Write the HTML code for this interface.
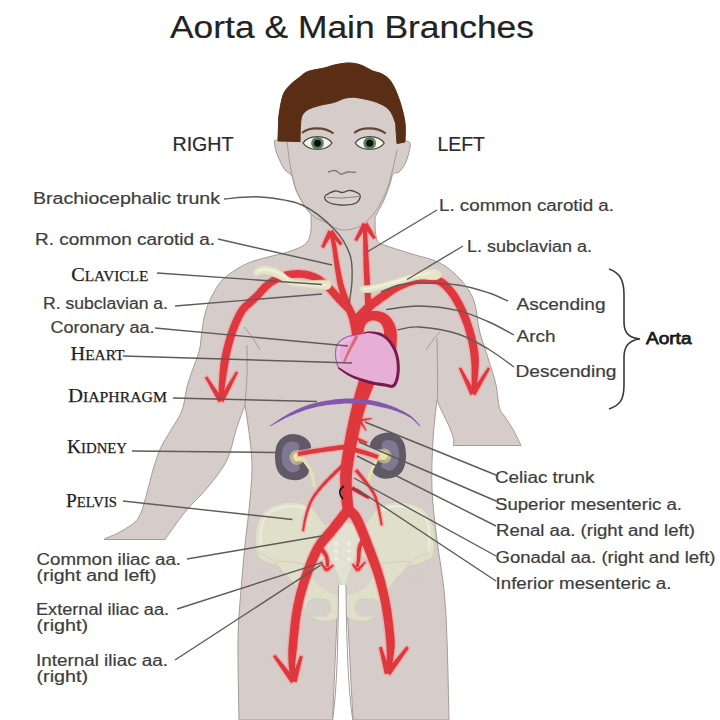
<!DOCTYPE html>
<html><head><meta charset="utf-8">
<style>
html,body{margin:0;padding:0;background:#fff;}
body{width:720px;height:720px;overflow:hidden;position:relative;}
svg{position:absolute;left:0;top:0;}
</style></head><body>
<svg width="720" height="720" viewBox="0 0 720 720">
<path d="M311.0,214.0 C310.9,217.1 311.6,227.7 310.6,232.8 C309.6,237.9 308.7,241.3 304.8,244.5 C300.9,247.7 293.5,250.1 287.3,252.2 C281.1,254.3 274.3,255.3 267.8,257.1 C261.3,258.9 254.2,260.6 248.4,263.0 C242.6,265.4 237.4,268.6 232.8,271.7 C228.2,274.8 224.6,277.2 221.0,281.4 C217.4,285.6 214.0,291.9 211.4,297.0 C208.8,302.1 207.1,306.5 205.5,312.0 C203.9,317.5 203.0,323.7 202.0,330.0 C201.0,336.3 201.1,343.3 199.5,350.0 C197.9,356.7 194.6,363.8 192.5,370.0 C190.4,376.2 188.8,380.2 187.0,387.0 C185.2,393.8 184.7,403.3 182.0,410.5 C179.3,417.7 174.7,423.5 171.0,430.0 C167.3,436.5 163.2,442.0 160.0,449.4 C156.8,456.8 154.0,466.5 151.7,474.4 C149.4,482.3 148.3,489.3 146.0,496.7 C143.7,504.1 142.0,513.1 137.8,518.9 C133.6,524.7 126.3,528.2 121.0,531.4 C115.7,534.6 108.6,536.9 105.8,538.3 C103.0,539.6 104.3,539.3 104.0,539.5  L165,539.5 L165.0,539.5 C168.3,534.9 177.8,520.8 185.0,512.0 C192.2,503.2 201.0,495.7 208.0,487.0 C215.0,478.3 222.3,469.5 227.0,460.0 C231.7,450.5 233.0,439.2 236.0,430.0 C239.0,420.8 243.5,409.2 245.0,405.0 L245.0,405.0 C245.8,410.8 248.8,429.2 250.0,440.0 C251.2,450.8 252.2,458.3 252.0,470.0 C251.8,481.7 250.2,497.5 249.0,510.0 C247.8,522.5 246.3,531.7 245.0,545.0 C243.7,558.3 242.2,574.2 241.0,590.0 C239.8,605.8 238.3,618.3 238.0,640.0 C237.7,661.7 238.8,706.7 239.0,720.0  L332.5,720 L338.5,585 L346,585 L353,720 L449,720 L449.0,720.0 C448.7,706.7 447.8,661.7 447.0,640.0 C446.2,618.3 445.7,606.7 444.0,590.0 C442.3,573.3 439.0,556.7 437.0,540.0 C435.0,523.3 432.7,506.7 432.0,490.0 C431.3,473.3 432.2,455.0 433.0,440.0 C433.8,425.0 436.3,406.7 437.0,400.0 L437.0,400.0 C437.8,401.8 439.7,406.7 441.7,411.0 C443.7,415.3 446.9,421.1 448.9,425.7 C450.8,430.2 452.6,435.0 453.4,438.3 C454.1,441.6 453.4,444.3 453.4,445.5  L521,445.5 L521.0,445.5 C519.8,443.1 516.6,435.8 513.9,431.0 C511.2,426.2 507.2,420.5 504.8,416.6 C502.4,412.7 500.9,413.0 499.4,407.6 C497.9,402.2 497.7,392.3 495.8,384.0 C493.9,375.7 490.7,366.8 488.0,358.0 C485.3,349.2 481.8,340.5 479.5,331.0 C477.2,321.5 477.1,309.5 474.0,301.0 C470.9,292.5 466.7,286.3 461.0,280.0 C455.3,273.7 448.2,267.3 440.0,263.0 C431.8,258.7 420.3,256.7 412.0,254.0 C403.7,251.3 395.8,249.3 390.0,247.0 C384.2,244.7 379.5,245.0 377.0,240.0 C374.5,235.0 375.3,220.8 375.0,217.0 L375.0,217.0 C376.5,214.2 381.5,205.5 384.0,200.0 C386.5,194.5 388.5,188.3 390.0,184.0 C391.5,179.7 391.5,176.0 393.0,174.0 C394.5,172.0 397.0,173.7 399.0,172.0 C401.0,170.3 403.3,167.3 405.0,164.0 C406.7,160.7 408.2,155.5 409.0,152.0 C409.8,148.5 410.7,145.2 410.0,143.0 C409.3,140.8 405.8,142.2 405.0,139.0 C404.2,135.8 405.7,129.1 405.0,123.5 C404.3,117.9 402.7,111.0 401.0,105.3 C399.3,99.5 397.0,93.4 395.0,89.0 C393.0,84.6 391.2,81.6 388.8,79.0 C386.4,76.4 383.5,74.8 380.8,73.5 C378.1,72.2 376.1,72.4 372.7,71.0 C369.3,69.6 364.6,66.3 360.6,65.0 C356.6,63.7 352.9,63.0 348.5,63.0 C344.1,63.0 338.5,64.2 334.5,65.0 C330.5,65.8 328.8,66.9 324.4,68.0 C320.0,69.1 312.1,70.0 308.0,71.5 C303.9,73.0 303.0,74.7 300.0,77.0 C297.0,79.3 292.8,82.2 290.0,85.2 C287.2,88.2 284.8,90.3 283.0,95.3 C281.2,100.3 279.8,110.5 279.0,115.4 C278.2,120.4 278.7,121.1 278.5,125.0 C278.3,128.9 278.7,136.3 278.0,139.0 C277.3,141.7 274.8,139.0 274.5,141.0 C274.2,143.0 275.1,147.7 276.0,151.0 C276.9,154.3 278.5,157.8 280.0,161.0 C281.5,164.2 283.0,167.5 285.0,170.0 C287.0,172.5 290.2,172.7 292.0,176.0 C293.8,179.3 294.0,185.2 296.0,190.0 C298.0,194.8 301.5,201.0 304.0,205.0 C306.5,209.0 309.8,212.5 311.0,214.0 Z" fill="#d6cdca" stroke="#a39b97" stroke-width="1"/>
<g fill="none" stroke="#a39b97" stroke-width="1">
<path d="M244.0,327.0 C245.3,328.7 249.3,333.2 252.0,337.0 C254.7,340.8 258.7,347.8 260.0,350.0"/>
<path d="M247.0,345.0 C247.0,350.0 247.3,365.0 247.0,375.0 C246.7,385.0 245.3,400.0 245.0,405.0"/>
<path d="M426.0,350.0 C427.2,348.3 430.7,343.0 433.0,340.0 C435.3,337.0 438.8,333.3 440.0,332.0"/>
<path d="M437.0,338.0 C437.1,343.3 437.4,359.7 437.5,370.0 C437.6,380.3 437.5,395.0 437.5,400.0"/>
<path d="M287.0,142.0 C287.7,146.7 289.3,161.7 291.0,170.0 C292.7,178.3 293.7,184.7 297.0,192.0 C300.3,199.3 306.0,208.8 311.0,214.0 C316.0,219.2 321.8,220.3 327.0,223.0 C332.2,225.7 336.5,229.5 342.0,230.0 C347.5,230.5 354.5,229.0 360.0,226.0 C365.5,223.0 370.7,217.7 375.0,212.0 C379.3,206.3 383.2,198.7 386.0,192.0 C388.8,185.3 390.2,179.0 392.0,172.0 C393.8,165.0 396.2,153.7 397.0,150.0"/>
</g>
<path d="M256.7,554.0 C255.4,548.7 254.7,536.1 256.0,529.0 C257.3,521.9 260.5,515.6 264.5,511.4 C268.5,507.2 274.5,505.1 280.0,503.6 C285.5,502.1 292.3,502.0 297.5,502.6 C302.7,503.2 307.4,505.1 311.0,507.5 C314.6,509.9 316.3,513.6 319.0,517.0 C321.7,520.4 324.2,524.8 327.0,528.0 C329.8,531.2 334.8,532.3 336.0,536.0 C337.2,539.7 336.3,546.0 334.0,550.0 C331.7,554.0 327.3,557.3 322.0,560.0 C316.7,562.7 309.0,565.0 302.0,566.0 C295.0,567.0 286.3,566.8 280.0,566.0 C273.7,565.2 267.9,563.0 264.0,561.0 C260.1,559.0 258.0,559.3 256.7,554.0 Z" fill="#dfdfca" stroke="#cfcfbb" stroke-width="1"/>
<path d="M433.3,554.0 C434.6,548.7 435.3,536.1 434.0,529.0 C432.7,521.9 429.5,515.6 425.5,511.4 C421.5,507.2 415.5,505.1 410.0,503.6 C404.5,502.1 397.7,502.0 392.5,502.6 C387.3,503.2 382.6,505.1 379.0,507.5 C375.4,509.9 373.7,513.6 371.0,517.0 C368.3,520.4 365.8,524.8 363.0,528.0 C360.2,531.2 355.2,532.3 354.0,536.0 C352.8,539.7 353.7,546.0 356.0,550.0 C358.3,554.0 362.7,557.3 368.0,560.0 C373.3,562.7 381.0,565.0 388.0,566.0 C395.0,567.0 403.7,566.8 410.0,566.0 C416.3,565.2 422.1,563.0 426.0,561.0 C429.9,559.0 432.0,559.3 433.3,554.0 Z" fill="#dfdfca" stroke="#cfcfbb" stroke-width="1"/>
<path d="M276.0,562.0 C272.3,564.2 285.8,573.5 290.0,579.0 C294.2,584.5 298.3,589.5 301.0,595.0 C303.7,600.5 302.8,607.7 306.0,612.0 C309.2,616.3 315.0,619.8 320.0,621.0 C325.0,622.2 332.2,621.2 336.0,619.0 C339.8,616.8 342.3,612.5 343.0,608.0 C343.7,603.5 342.5,597.0 340.0,592.0 C337.5,587.0 332.7,582.3 328.0,578.0 C323.3,573.7 320.7,568.7 312.0,566.0 C303.3,563.3 279.7,559.8 276.0,562.0 Z" fill="#dfdfca" stroke="#cfcfbb" stroke-width="1"/>
<path d="M410.0,562.0 C413.7,564.2 400.2,573.5 396.0,579.0 C391.8,584.5 387.7,589.5 385.0,595.0 C382.3,600.5 383.2,607.7 380.0,612.0 C376.8,616.3 371.0,619.8 366.0,621.0 C361.0,622.2 353.8,621.2 350.0,619.0 C346.2,616.8 343.7,612.5 343.0,608.0 C342.3,603.5 343.5,597.0 346.0,592.0 C348.5,587.0 353.3,582.3 358.0,578.0 C362.7,573.7 365.3,568.7 374.0,566.0 C382.7,563.3 406.3,559.8 410.0,562.0 Z" fill="#dfdfca" stroke="#cfcfbb" stroke-width="1"/>
<path d="M261.0,550.0 C261.0,546.5 259.8,535.0 261.0,529.0 C262.2,523.0 264.5,517.6 268.0,514.0 C271.5,510.4 277.0,508.8 282.0,507.5 C287.0,506.2 293.3,505.9 298.0,506.5 C302.7,507.1 308.0,510.2 310.0,511.0" fill="none" stroke="#ebebdb" stroke-width="2.5"/>
<path d="M429.0,550.0 C429.0,546.5 430.2,535.0 429.0,529.0 C427.8,523.0 425.5,517.6 422.0,514.0 C418.5,510.4 413.0,508.8 408.0,507.5 C403.0,506.2 396.7,505.9 392.0,506.5 C387.3,507.1 382.0,510.2 380.0,511.0" fill="none" stroke="#ebebdb" stroke-width="2.5"/>
<path d="M257.0,553.0 C258.5,553.5 262.8,554.3 266.0,556.0 C269.2,557.7 273.5,560.5 276.0,563.0 C278.5,565.5 281.2,568.5 281.0,571.0 C280.8,573.5 278.2,577.5 275.0,578.0 C271.8,578.5 264.2,574.7 262.0,574.0" fill="none" stroke="#cfcfbb" stroke-width="1"/>
<path d="M429.0,553.0 C427.5,553.5 423.2,554.3 420.0,556.0 C416.8,557.7 412.5,560.5 410.0,563.0 C407.5,565.5 404.8,568.5 405.0,571.0 C405.2,573.5 407.8,577.5 411.0,578.0 C414.2,578.5 421.8,574.7 424.0,574.0" fill="none" stroke="#cfcfbb" stroke-width="1"/>
<path d="M312.0,566.0 C313.3,561.8 320.8,559.7 326.0,560.0 C331.2,560.3 337.3,568.0 343.0,568.0 C348.7,568.0 354.8,560.3 360.0,560.0 C365.2,559.7 372.7,561.8 374.0,566.0 C375.3,570.2 373.2,580.0 368.0,585.0 C362.8,590.0 351.3,596.0 343.0,596.0 C334.7,596.0 323.2,590.0 318.0,585.0 C312.8,580.0 310.7,570.2 312.0,566.0 Z" fill="#d9d3cc"/>
<path d="M324.0,527.0 C326.5,522.2 336.7,523.0 343.0,523.0 C349.3,523.0 359.5,522.2 362.0,527.0 C364.5,531.8 360.0,544.5 358.0,552.0 C356.0,559.5 352.5,566.3 350.0,572.0 C347.5,577.7 345.3,586.0 343.0,586.0 C340.7,586.0 338.5,577.7 336.0,572.0 C333.5,566.3 330.0,559.5 328.0,552.0 C326.0,544.5 321.5,531.8 324.0,527.0 Z" fill="#e2e2d2" stroke="#cfcfbb" stroke-width="0.8"/>
<circle cx="336" cy="543.5" r="2.1" fill="#efeee4"/>
<circle cx="349" cy="543.5" r="2.1" fill="#efeee4"/>
<circle cx="336" cy="551" r="2.1" fill="#efeee4"/>
<circle cx="349" cy="551" r="2.1" fill="#efeee4"/>
<circle cx="336" cy="559" r="2.1" fill="#efeee4"/>
<circle cx="349" cy="559" r="2.1" fill="#efeee4"/>
<rect x="307" y="599" width="23.5" height="17" rx="7" fill="#d6d1ca" stroke="#cfcfbb" stroke-width="1"/>
<rect x="355.5" y="599" width="23.5" height="17" rx="7" fill="#d6d1ca" stroke="#cfcfbb" stroke-width="1"/>
<path d="M338.5,585 L346,585 C346.5,640 348,690 353,721 L332.5,721 C337,690 338.2,640 338.5,585 Z" fill="#fff"/>
<path d="M338.5,585 C338.2,640 337,690 332.5,721 M346,585 C346.5,640 348,690 353,721" stroke="#a39b97" stroke-width="1" fill="none"/>
<path d="M278.0,141.0 C278.1,138.3 278.3,129.3 278.5,125.0 C278.7,120.7 278.2,120.4 279.0,115.4 C279.8,110.5 281.2,100.3 283.0,95.3 C284.8,90.3 287.2,88.2 290.0,85.2 C292.8,82.2 297.0,79.3 300.0,77.0 C303.0,74.7 303.9,73.0 308.0,71.5 C312.1,70.0 320.0,69.1 324.4,68.0 C328.8,66.9 330.5,65.8 334.5,65.0 C338.5,64.2 344.1,63.0 348.5,63.0 C352.9,63.0 356.6,63.7 360.6,65.0 C364.6,66.3 369.3,69.6 372.7,71.0 C376.1,72.4 378.1,72.2 380.8,73.5 C383.5,74.8 386.4,76.4 388.8,79.0 C391.2,81.6 393.0,84.6 395.0,89.0 C397.0,93.4 399.3,99.5 401.0,105.3 C402.7,111.0 404.3,117.4 405.0,123.5 C405.7,129.6 405.0,138.9 405.0,142.0  L397,143.6 L397.0,143.6 C396.8,141.3 396.3,133.7 396.0,130.0 C395.7,126.3 396.2,124.9 395.0,121.5 C393.8,118.1 391.9,112.6 388.8,109.4 C385.8,106.2 381.4,104.2 376.7,102.3 C372.0,100.4 364.6,99.1 360.6,98.3 C356.6,97.5 355.3,97.3 352.6,97.3 C349.9,97.3 347.5,97.5 344.5,98.3 C341.5,99.1 338.5,101.1 334.5,102.3 C330.5,103.5 324.8,104.1 320.4,105.3 C316.0,106.5 311.3,107.7 308.3,109.4 C305.3,111.1 303.5,112.8 302.2,115.4 C300.9,118.0 300.8,121.7 300.5,125.0 C300.2,128.3 300.2,132.7 300.2,135.5 C300.1,138.3 300.2,140.6 300.2,141.6 Z" fill="#5a2e14" stroke="#5a2e14" stroke-width="1"/>
<path d="M303.0,143 C308.5,134.5 326.5,134.5 332.0,143 C326.5,151.5 308.5,151.5 303.0,143 Z" fill="#f3f4ee" stroke="#3e4a3c" stroke-width="1.3"/>
<circle cx="317.5" cy="143.3" r="6.3" fill="#5f7f5c"/>
<circle cx="317.5" cy="143.3" r="3.5" fill="#0c100c"/>
<path d="M302.0,133 C308.5,127 324.5,126.5 333.5,133.5" fill="none" stroke="#654636" stroke-width="2.1"/>
<path d="M355.2,143 C360.7,134.5 378.7,134.5 384.2,143 C378.7,151.5 360.7,151.5 355.2,143 Z" fill="#f3f4ee" stroke="#3e4a3c" stroke-width="1.3"/>
<circle cx="369.7" cy="143.3" r="6.3" fill="#5f7f5c"/>
<circle cx="369.7" cy="143.3" r="3.5" fill="#0c100c"/>
<path d="M354.2,133 C360.7,127 376.7,126.5 385.7,133.5" fill="none" stroke="#654636" stroke-width="2.1"/>
<path d="M328.0,172.0 C329.2,171.8 332.8,170.2 335.0,170.5 C337.2,170.8 338.8,173.8 341.0,174.0 C343.2,174.2 345.5,172.2 348.0,172.0 C350.5,171.8 354.7,172.4 356.0,172.5" fill="none" stroke="#8a7068" stroke-width="1.3"/>
<path d="M325.0,196.0 C326.2,194.2 332.2,191.6 335.0,191.0 C337.8,190.4 339.4,192.6 342.0,192.5 C344.6,192.4 347.5,190.1 350.5,190.5 C353.5,190.9 359.1,192.9 360.0,195.0 C360.9,197.1 359.2,201.3 356.0,203.0 C352.8,204.7 345.7,205.2 341.0,205.0 C336.3,204.8 330.7,203.5 328.0,202.0 C325.3,200.5 323.8,197.8 325.0,196.0 Z" fill="#d9d1cd" stroke="#514a47" stroke-width="1.3"/>
<path d="M327,197.5 Q342,199 359,196.5" fill="none" stroke="#8c827e" stroke-width="1"/>
<path d="M293.0,434.0 C296.2,434.0 300.3,435.2 303.0,436.5 C305.7,437.8 307.7,439.7 309.0,441.5 C310.3,443.3 311.3,446.0 311.0,447.5 C310.7,449.0 309.0,449.8 307.0,450.5 C305.0,451.2 301.2,450.7 299.0,451.5 C296.8,452.3 294.3,454.0 294.0,455.5 C293.7,457.0 295.2,459.3 297.0,460.5 C298.8,461.7 303.0,461.3 305.0,462.5 C307.0,463.7 308.7,465.3 309.0,467.5 C309.3,469.7 308.8,473.4 307.0,475.5 C305.2,477.6 301.5,479.5 298.0,480.0 C294.5,480.5 289.3,479.9 286.0,478.5 C282.7,477.1 279.8,474.8 278.0,471.5 C276.2,468.2 275.2,463.0 275.0,458.5 C274.8,454.0 275.5,448.2 277.0,444.5 C278.5,440.8 281.3,438.2 284.0,436.5 C286.7,434.8 289.8,434.0 293.0,434.0 Z" fill="#615a66"/>
<path d="M292.0,441.5 C294.2,441.3 296.8,442.2 298.0,443.5 C299.2,444.8 299.8,447.7 299.0,449.5 C298.2,451.3 293.7,452.3 293.0,454.5 C292.3,456.7 293.8,460.5 295.0,462.5 C296.2,464.5 299.7,465.0 300.0,466.5 C300.3,468.0 298.8,470.7 297.0,471.5 C295.2,472.3 291.3,472.7 289.0,471.5 C286.7,470.3 284.2,467.5 283.0,464.5 C281.8,461.5 281.7,456.8 282.0,453.5 C282.3,450.2 283.3,446.5 285.0,444.5 C286.7,442.5 289.8,441.7 292.0,441.5 Z" fill="#8a83a3" opacity="0.75"/>
<ellipse cx="297" cy="457.5" rx="7.5" ry="7.5" fill="#e6da9a" opacity="0.6"/>
<ellipse cx="297" cy="457.0" rx="4" ry="4.5" fill="#efe6a8" opacity="0.85"/>
<path d="M388.0,432.5 C384.8,432.5 380.7,433.8 378.0,435.0 C375.3,436.2 373.3,438.2 372.0,440.0 C370.7,441.8 369.7,444.5 370.0,446.0 C370.3,447.5 372.0,448.3 374.0,449.0 C376.0,449.7 379.8,449.2 382.0,450.0 C384.2,450.8 386.7,452.5 387.0,454.0 C387.3,455.5 385.8,457.8 384.0,459.0 C382.2,460.2 378.0,459.8 376.0,461.0 C374.0,462.2 372.3,463.8 372.0,466.0 C371.7,468.2 372.2,471.9 374.0,474.0 C375.8,476.1 379.5,478.0 383.0,478.5 C386.5,479.0 391.7,478.4 395.0,477.0 C398.3,475.6 401.2,473.3 403.0,470.0 C404.8,466.7 405.8,461.5 406.0,457.0 C406.2,452.5 405.5,446.7 404.0,443.0 C402.5,439.3 399.7,436.8 397.0,435.0 C394.3,433.2 391.2,432.5 388.0,432.5 Z" fill="#615a66"/>
<path d="M389.0,440.0 C386.8,439.8 384.2,440.7 383.0,442.0 C381.8,443.3 381.2,446.2 382.0,448.0 C382.8,449.8 387.3,450.8 388.0,453.0 C388.7,455.2 387.2,459.0 386.0,461.0 C384.8,463.0 381.3,463.5 381.0,465.0 C380.7,466.5 382.2,469.2 384.0,470.0 C385.8,470.8 389.7,471.2 392.0,470.0 C394.3,468.8 396.8,466.0 398.0,463.0 C399.2,460.0 399.3,455.3 399.0,452.0 C398.7,448.7 397.7,445.0 396.0,443.0 C394.3,441.0 391.2,440.2 389.0,440.0 Z" fill="#8a83a3" opacity="0.75"/>
<ellipse cx="384" cy="456" rx="7.5" ry="7.5" fill="#e6da9a" opacity="0.6"/>
<ellipse cx="384" cy="455.5" rx="4" ry="4.5" fill="#efe6a8" opacity="0.85"/>
<path d="M302.0,458.0 C303.5,460.2 309.0,466.3 311.0,471.0 C313.0,475.7 313.5,483.5 314.0,486.0" fill="none" stroke="#e6dfb2" stroke-width="3.2" stroke-linecap="round"/>
<path d="M376.0,461.0 C375.0,463.2 371.3,469.7 370.0,474.0 C368.7,478.3 368.3,484.8 368.0,487.0" fill="none" stroke="#e6dfb2" stroke-width="3.2" stroke-linecap="round"/>
<g fill="none" stroke="#f3a2a2" stroke-width="3" stroke-linejoin="round" opacity="0.65">
<path d="M360.4,375.4 L360.0,376.9 L359.5,378.7 L358.8,380.9 L358.1,383.4 L357.3,386.1 L356.4,388.9 L355.6,391.8 L354.8,394.6 L354.0,397.4 L353.4,400.1 L352.8,402.5 L352.2,405.0 L351.7,407.5 L351.1,409.9 L350.5,412.3 L350.0,414.7 L349.4,417.2 L348.9,419.6 L348.3,422.1 L347.8,424.6 L347.3,427.2 L346.7,429.8 L346.2,432.5 L345.7,435.1 L345.2,437.8 L344.7,440.5 L344.2,443.2 L343.8,445.8 L343.4,448.5 L343.0,451.0 L342.6,453.5 L342.2,456.0 L341.9,458.4 L341.5,460.9 L341.2,463.3 L340.9,465.8 L340.6,468.2 L340.4,470.7 L340.3,473.2 L340.1,475.8 L340.1,478.4 L340.1,481.0 L340.2,483.7 L340.3,486.3 L340.5,488.9 L340.6,491.5 L340.8,493.9 L341.0,496.3 L341.2,498.4 L341.4,500.5 L341.6,502.4 L341.8,504.3 L342.1,506.1 L342.3,507.8 L342.6,509.4 L342.8,510.8 L343.1,512.1 L343.3,513.2 L343.4,514.1 L343.6,514.9 L354.4,513.1 L354.3,512.3 L354.1,511.3 L354.0,510.2 L353.8,509.0 L353.5,507.6 L353.3,506.2 L353.1,504.6 L352.9,503.0 L352.8,501.3 L352.6,499.5 L352.5,497.6 L352.3,495.4 L352.2,493.1 L352.0,490.8 L351.9,488.3 L351.8,485.8 L351.8,483.4 L351.7,480.9 L351.8,478.5 L351.9,476.2 L352.0,474.0 L352.2,471.7 L352.4,469.5 L352.7,467.2 L353.1,464.9 L353.4,462.6 L353.8,460.3 L354.2,457.9 L354.6,455.4 L355.0,453.0 L355.5,450.5 L355.9,448.0 L356.4,445.4 L356.9,442.8 L357.4,440.2 L358.0,437.6 L358.5,435.0 L359.1,432.4 L359.6,429.9 L360.2,427.4 L360.8,424.9 L361.3,422.5 L361.9,420.1 L362.5,417.8 L363.1,415.4 L363.7,413.1 L364.4,410.8 L365.1,408.5 L365.9,406.2 L366.6,403.9 L367.5,401.6 L368.4,399.0 L369.4,396.3 L370.4,393.6 L371.5,390.9 L372.5,388.4 L373.4,386.0 L374.3,383.8 L375.0,382.0 L375.6,380.6 Z"/>
<path d="M344.7,444.5 L343.3,444.7 L341.6,444.9 L339.5,445.2 L337.2,445.5 L334.7,445.9 L332.1,446.2 L329.4,446.6 L326.7,447.0 L324.1,447.4 L321.7,447.8 L319.2,448.2 L316.5,448.6 L313.8,449.1 L311.0,449.6 L308.2,450.1 L305.6,450.6 L303.1,451.0 L300.9,451.4 L299.1,451.8 L297.7,452.0 L298.3,456.0 L299.8,455.7 L301.6,455.4 L303.8,455.1 L306.3,454.7 L308.9,454.3 L311.7,453.8 L314.5,453.4 L317.2,453.0 L319.9,452.6 L322.3,452.2 L324.8,451.9 L327.3,451.6 L330.0,451.2 L332.7,450.9 L335.3,450.6 L337.8,450.3 L340.1,450.1 L342.2,449.8 L343.9,449.6 L345.3,449.5 Z"/>
<path d="M351.3,451.4 L352.2,451.6 L353.3,451.9 L354.6,452.3 L356.0,452.6 L357.6,453.0 L359.2,453.5 L360.9,453.9 L362.5,454.3 L364.0,454.7 L365.3,455.1 L366.7,455.5 L368.0,455.9 L369.4,456.4 L370.8,456.8 L372.2,457.2 L373.5,457.7 L374.7,458.0 L375.7,458.4 L376.6,458.7 L377.4,458.9 L378.6,455.1 L377.9,454.9 L377.1,454.5 L376.0,454.2 L374.8,453.7 L373.5,453.3 L372.2,452.8 L370.8,452.3 L369.4,451.8 L368.0,451.3 L366.7,450.9 L365.3,450.4 L363.7,449.9 L362.1,449.4 L360.5,448.9 L358.9,448.5 L357.3,448.0 L355.9,447.6 L354.6,447.2 L353.5,446.8 L352.7,446.6 Z"/>
<path d="M371.4,417.9 L365.6,418.6 L359.8,419.2 L360.2,421.8 L365.9,420.4 L371.6,419.1 Z"/>
<path d="M366.5,430.2 L363.8,425.0 L361.1,419.8 L358.9,421.2 L362.2,426.0 L365.5,430.8 Z"/>
<path d="M352.3,438.6 L353.2,439.0 L354.5,439.4 L356.0,440.0 L357.7,440.6 L359.4,441.3 L361.2,442.0 L362.9,442.6 L364.4,443.2 L365.7,443.7 L366.6,444.0 L367.4,442.0 L366.6,441.6 L365.3,441.0 L363.9,440.3 L362.3,439.5 L360.6,438.7 L358.9,437.9 L357.2,437.1 L355.8,436.4 L354.6,435.8 L353.7,435.4 Z"/>
<path d="M340.8,464.8 L339.6,465.9 L338.1,467.4 L336.3,469.2 L334.2,471.2 L332.1,473.4 L329.8,475.6 L327.6,477.9 L325.5,480.1 L323.6,482.1 L321.9,484.0 L320.4,485.7 L319.1,487.3 L317.8,488.9 L316.6,490.4 L315.5,491.9 L314.4,493.3 L313.4,494.8 L312.4,496.3 L311.5,497.8 L310.7,499.4 L309.8,501.0 L309.1,502.6 L308.4,504.2 L307.8,505.8 L307.2,507.4 L306.7,509.0 L306.2,510.6 L305.8,512.1 L305.3,513.7 L304.9,515.3 L304.5,516.9 L304.1,518.7 L303.7,520.5 L303.4,522.3 L303.1,524.1 L302.8,525.8 L302.6,527.4 L302.4,528.7 L302.2,529.9 L302.0,530.8 L304.0,531.2 L304.2,530.3 L304.4,529.1 L304.6,527.7 L304.9,526.1 L305.2,524.5 L305.5,522.7 L305.9,520.9 L306.3,519.2 L306.7,517.5 L307.1,515.9 L307.6,514.4 L308.0,512.8 L308.5,511.3 L309.0,509.7 L309.5,508.2 L310.1,506.6 L310.7,505.1 L311.4,503.6 L312.1,502.1 L312.9,500.6 L313.8,499.2 L314.7,497.7 L315.6,496.3 L316.6,495.0 L317.7,493.6 L318.8,492.1 L320.0,490.7 L321.3,489.2 L322.6,487.6 L324.1,486.0 L325.8,484.2 L327.7,482.2 L329.8,480.1 L332.1,477.9 L334.3,475.7 L336.6,473.6 L338.6,471.6 L340.5,469.9 L342.0,468.4 L343.2,467.2 Z"/>
<path d="M354.6,471.1 L355.6,472.3 L356.9,473.8 L358.4,475.6 L360.1,477.6 L361.9,479.7 L363.7,481.9 L365.5,484.1 L367.1,486.2 L368.6,488.1 L369.8,489.8 L370.8,491.3 L371.6,492.6 L372.3,493.7 L372.9,494.8 L373.4,495.8 L373.9,496.9 L374.3,498.0 L374.8,499.3 L375.2,500.7 L375.8,502.4 L376.3,504.3 L376.9,506.6 L377.5,509.2 L378.1,511.9 L378.7,514.7 L379.2,517.4 L379.7,519.9 L380.1,522.2 L380.5,524.1 L380.8,525.5 L382.8,525.1 L382.5,523.7 L382.2,521.8 L381.8,519.5 L381.4,517.0 L380.9,514.2 L380.4,511.5 L379.9,508.7 L379.3,506.1 L378.8,503.7 L378.2,501.6 L377.7,499.9 L377.3,498.4 L376.8,497.1 L376.4,495.8 L375.9,494.7 L375.3,493.5 L374.7,492.3 L374.0,491.1 L373.2,489.7 L372.2,488.2 L371.0,486.4 L369.5,484.4 L367.9,482.2 L366.2,479.9 L364.4,477.7 L362.6,475.5 L361.0,473.4 L359.5,471.6 L358.3,470.1 L357.4,468.9 Z"/>
<path d="M351.0,489.7 L352.1,490.3 L353.6,491.1 L355.5,492.1 L357.5,493.2 L359.7,494.4 L361.8,495.6 L363.9,496.7 L365.7,497.7 L367.3,498.5 L368.4,499.1 L369.6,496.9 L368.6,496.2 L367.1,495.3 L365.3,494.2 L363.4,492.9 L361.3,491.6 L359.3,490.3 L357.3,489.0 L355.5,487.9 L354.1,487.0 L353.0,486.3 Z"/>
<path d="M344.1,506.9 L343.2,508.0 L342.1,509.5 L340.7,511.2 L339.2,513.1 L337.6,515.2 L335.9,517.4 L334.1,519.6 L332.4,521.8 L330.7,524.0 L329.2,526.0 L327.7,527.8 L326.2,529.6 L324.7,531.3 L323.1,533.2 L321.5,535.0 L319.9,537.0 L318.2,539.1 L316.6,541.3 L315.1,543.7 L313.5,546.2 L312.1,548.9 L310.7,551.8 L309.4,554.7 L308.1,557.7 L306.8,560.8 L305.6,564.0 L304.4,567.1 L303.2,570.2 L302.2,573.3 L301.1,576.3 L300.1,579.3 L299.2,582.3 L298.3,585.3 L297.5,588.2 L296.6,591.2 L295.9,594.2 L295.1,597.2 L294.5,600.2 L293.8,603.1 L293.2,606.1 L292.7,609.1 L292.2,612.2 L291.7,615.2 L291.3,618.3 L291.0,621.3 L290.6,624.3 L290.3,627.2 L290.0,630.1 L289.8,632.9 L289.5,635.6 L289.2,638.2 L289.0,640.8 L288.8,643.4 L288.6,645.9 L288.4,648.4 L288.3,650.9 L288.3,653.2 L288.3,655.5 L288.4,657.7 L288.4,659.9 L288.5,662.0 L288.6,664.2 L288.8,666.2 L289.0,668.2 L289.2,670.1 L289.4,671.9 L289.6,673.5 L289.8,674.9 L289.9,676.1 L290.0,677.1 L295.0,676.9 L295.0,675.9 L295.0,674.7 L295.0,673.2 L295.1,671.6 L295.1,669.9 L295.1,668.0 L295.2,666.1 L295.3,664.1 L295.4,662.1 L295.6,660.1 L295.8,658.1 L296.0,655.9 L296.3,653.7 L296.6,651.4 L296.9,649.1 L297.1,646.6 L297.3,644.2 L297.5,641.6 L297.8,639.1 L298.1,636.4 L298.4,633.7 L298.7,631.0 L299.0,628.1 L299.3,625.3 L299.7,622.3 L300.1,619.4 L300.5,616.5 L300.9,613.6 L301.4,610.7 L302.0,607.9 L302.6,605.0 L303.2,602.2 L303.9,599.3 L304.6,596.5 L305.4,593.6 L306.2,590.7 L307.1,587.9 L308.0,585.0 L308.9,582.2 L309.9,579.3 L310.9,576.4 L312.0,573.4 L313.1,570.4 L314.3,567.4 L315.5,564.4 L316.7,561.4 L318.0,558.6 L319.3,555.9 L320.6,553.3 L321.9,551.0 L323.2,548.8 L324.5,546.8 L325.9,544.9 L327.4,543.1 L328.9,541.3 L330.4,539.5 L332.0,537.7 L333.6,535.9 L335.2,534.0 L336.8,532.0 L338.4,530.0 L340.1,527.9 L341.9,525.7 L343.6,523.5 L345.3,521.3 L347.0,519.3 L348.5,517.4 L349.9,515.7 L351.0,514.2 L351.9,513.1 Z"/>
<path d="M273.0,656.5 L282.1,669.9 L291.2,683.3 L296.0,679.7 L285.7,667.2 L275.4,654.7 Z"/>
<path d="M300.0,655.7 L295.3,668.1 L290.7,680.6 L296.5,682.4 L299.7,669.5 L302.8,656.5 Z"/>
<path d="M346.4,514.5 L347.0,515.0 L347.7,515.7 L348.3,516.1 L348.8,516.6 L349.3,517.0 L349.8,517.5 L350.4,518.2 L351.0,519.1 L351.8,520.3 L352.6,521.7 L353.5,523.7 L354.6,526.0 L355.8,528.6 L357.0,531.5 L358.3,534.6 L359.6,537.8 L360.9,541.0 L362.1,544.2 L363.4,547.3 L364.5,550.3 L365.7,553.2 L366.8,556.1 L367.9,559.0 L369.0,561.9 L370.1,564.8 L371.2,567.7 L372.2,570.5 L373.2,573.4 L374.1,576.3 L375.0,579.1 L375.8,582.0 L376.6,584.8 L377.4,587.7 L378.1,590.6 L378.8,593.4 L379.5,596.3 L380.1,599.2 L380.7,602.1 L381.3,604.9 L381.8,607.8 L382.3,610.7 L382.8,613.7 L383.3,616.8 L383.7,619.9 L384.2,623.0 L384.5,626.0 L384.9,628.9 L385.2,631.6 L385.5,634.2 L385.7,636.4 L385.9,638.4 L386.1,640.0 L386.2,641.4 L386.3,642.7 L386.3,643.8 L386.4,644.8 L386.5,645.9 L386.5,647.0 L386.6,648.4 L386.7,649.9 L386.7,651.6 L386.7,653.5 L386.7,655.7 L386.7,657.9 L386.7,660.1 L386.6,662.3 L386.6,664.3 L386.6,666.1 L386.5,667.6 L386.5,668.8 L391.5,669.2 L391.7,668.1 L391.9,666.6 L392.2,664.8 L392.5,662.8 L392.9,660.6 L393.2,658.4 L393.6,656.2 L393.9,654.0 L394.1,652.0 L394.3,650.1 L394.5,648.6 L394.6,647.2 L394.7,645.9 L394.8,644.7 L394.8,643.5 L394.8,642.2 L394.7,640.9 L394.6,639.3 L394.5,637.6 L394.3,635.6 L394.1,633.3 L393.8,630.7 L393.5,627.9 L393.2,625.0 L392.8,621.9 L392.4,618.8 L392.0,615.6 L391.6,612.4 L391.1,609.2 L390.6,606.2 L390.1,603.3 L389.5,600.3 L388.9,597.3 L388.3,594.4 L387.6,591.4 L386.9,588.4 L386.2,585.4 L385.5,582.5 L384.7,579.5 L383.8,576.5 L382.9,573.5 L382.0,570.5 L381.0,567.5 L380.0,564.6 L378.9,561.6 L377.9,558.6 L376.8,555.7 L375.7,552.7 L374.6,549.8 L373.5,546.9 L372.3,543.9 L371.1,540.7 L369.9,537.4 L368.6,534.2 L367.3,530.9 L366.0,527.8 L364.8,524.8 L363.6,522.0 L362.5,519.5 L361.4,517.3 L360.3,515.3 L359.3,513.6 L358.2,512.1 L357.2,510.9 L356.2,509.9 L355.3,509.0 L354.6,508.4 L354.1,508.0 L353.8,507.8 L353.6,507.5 Z"/>
<path d="M379.0,647.6 L381.9,661.0 L384.8,674.3 L390.6,672.7 L386.2,659.7 L381.8,646.8 Z"/>
<path d="M406.5,646.3 L395.9,659.0 L385.3,671.7 L390.1,675.3 L399.5,661.7 L408.9,648.1 Z"/>
<path d="M317.8,548.1 L318.3,548.6 L318.9,549.4 L319.6,550.2 L320.5,551.2 L321.3,552.2 L322.1,553.2 L322.9,554.2 L323.6,555.3 L324.2,556.2 L324.7,557.1 L325.0,557.9 L325.2,558.9 L325.4,560.0 L325.6,561.2 L325.7,562.4 L325.7,563.5 L325.8,564.6 L325.8,565.6 L325.8,566.4 L325.9,567.1 L328.9,566.9 L328.9,566.3 L328.9,565.5 L328.9,564.6 L329.0,563.5 L329.0,562.2 L329.0,561.0 L328.9,559.7 L328.7,558.3 L328.5,557.0 L328.1,555.7 L327.6,554.5 L327.0,553.2 L326.2,552.0 L325.4,550.8 L324.6,549.6 L323.8,548.5 L323.0,547.5 L322.3,546.6 L321.8,545.9 L321.4,545.3 Z"/>
<path d="M319.9,562.8 L322.5,567.1 L325.2,571.4 L327.6,569.6 L324.5,565.7 L321.3,561.8 Z"/>
<path d="M332.6,564.5 L329.1,566.9 L325.5,569.3 L327.3,571.7 L330.5,568.8 L333.8,565.9 Z"/>
<path d="M361.0,539.0 L360.8,539.5 L360.5,540.0 L360.2,540.6 L359.8,541.4 L359.4,542.3 L359.0,543.2 L358.5,544.2 L358.2,545.3 L357.8,546.4 L357.5,547.6 L357.3,548.7 L357.2,550.0 L357.1,551.3 L357.1,552.6 L357.0,554.0 L357.0,555.3 L357.0,556.6 L356.9,557.7 L356.9,558.8 L356.8,559.8 L356.7,560.7 L356.6,561.5 L356.5,562.4 L356.3,563.1 L356.2,563.9 L356.0,564.6 L355.9,565.2 L355.7,565.8 L355.6,566.2 L355.5,566.7 L358.5,567.3 L358.6,567.0 L358.7,566.5 L358.8,566.0 L359.0,565.3 L359.2,564.6 L359.4,563.8 L359.6,563.0 L359.8,562.1 L360.0,561.2 L360.2,560.2 L360.3,559.1 L360.4,558.0 L360.5,556.7 L360.6,555.5 L360.7,554.2 L360.8,552.9 L360.9,551.6 L361.1,550.4 L361.3,549.4 L361.5,548.4 L361.7,547.6 L362.0,546.7 L362.4,545.9 L362.8,545.0 L363.2,544.2 L363.7,543.4 L364.1,542.7 L364.4,542.1 L364.8,541.5 L365.0,541.0 Z"/>
<path d="M351.9,564.5 L354.1,568.0 L356.3,571.4 L358.7,569.6 L356.0,566.5 L353.3,563.5 Z"/>
<path d="M364.6,561.4 L360.5,565.4 L356.4,569.5 L358.6,571.5 L362.3,567.1 L366.0,562.6 Z"/>
<path d="M363.5,365.0 L363.5,363.8 L363.5,362.2 L363.5,360.2 L363.5,358.1 L363.5,355.8 L363.5,353.5 L363.5,351.1 L363.5,348.9 L363.5,346.8 L363.5,345.0 L363.5,343.3 L363.4,341.8 L363.4,340.3 L363.4,339.0 L363.3,337.7 L363.3,336.6 L363.3,335.5 L363.3,334.5 L363.4,333.6 L363.5,332.7 L363.6,331.7 L363.8,330.7 L363.9,329.7 L364.1,328.8 L364.2,328.0 L364.5,327.2 L364.7,326.5 L364.9,325.9 L365.1,325.3 L365.4,324.8 L365.7,324.4 L366.0,323.9 L366.4,323.5 L366.8,323.1 L367.2,322.7 L367.7,322.3 L368.2,322.0 L368.7,321.6 L369.2,321.4 L369.7,321.1 L370.2,320.9 L370.7,320.8 L371.3,320.6 L372.0,320.5 L372.7,320.4 L373.4,320.4 L374.1,320.4 L374.7,320.5 L375.4,320.7 L376.0,320.8 L376.7,321.0 L377.3,321.3 L377.9,321.5 L378.5,321.8 L379.1,322.1 L379.5,322.4 L380.0,322.7 L380.4,323.0 L380.7,323.4 L381.0,323.8 L381.4,324.3 L381.8,324.9 L382.2,325.5 L382.5,326.2 L382.9,327.0 L383.2,327.8 L383.4,328.6 L383.7,329.4 L383.8,330.3 L384.0,331.2 L384.0,332.1 L384.0,333.0 L384.0,334.1 L383.9,335.3 L383.9,336.7 L383.8,338.1 L383.7,339.6 L383.7,341.3 L383.6,343.0 L383.5,344.8 L383.4,346.6 L383.4,348.7 L383.2,350.9 L383.1,353.3 L383.0,355.6 L382.9,357.8 L382.8,359.9 L382.7,361.8 L382.6,363.4 L382.5,364.7 L395.5,365.3 L395.6,364.1 L395.6,362.6 L395.7,360.7 L395.9,358.6 L396.0,356.3 L396.1,353.9 L396.2,351.6 L396.3,349.3 L396.4,347.1 L396.5,345.2 L396.6,343.6 L396.6,341.9 L396.7,340.3 L396.8,338.7 L396.9,337.1 L396.9,335.5 L396.8,333.8 L396.6,332.2 L396.4,330.5 L396.0,328.8 L395.6,327.2 L395.1,325.7 L394.5,324.3 L393.8,322.9 L393.1,321.6 L392.4,320.4 L391.6,319.3 L390.8,318.2 L389.9,317.2 L389.0,316.2 L388.0,315.3 L386.9,314.5 L385.7,313.7 L384.6,313.1 L383.4,312.6 L382.3,312.2 L381.2,311.9 L380.1,311.6 L379.0,311.3 L378.0,311.2 L376.9,311.0 L375.7,310.9 L374.6,310.9 L373.4,310.9 L372.2,310.9 L371.0,310.9 L369.8,311.0 L368.6,311.2 L367.4,311.5 L366.3,311.9 L365.2,312.3 L364.1,312.8 L363.1,313.3 L362.0,313.9 L361.0,314.6 L360.1,315.4 L359.1,316.2 L358.2,317.1 L357.4,318.1 L356.6,319.2 L355.9,320.3 L355.3,321.5 L354.8,322.6 L354.3,323.8 L353.9,325.1 L353.5,326.3 L353.2,327.5 L352.9,328.8 L352.7,330.0 L352.5,331.3 L352.4,332.7 L352.3,334.1 L352.3,335.4 L352.3,336.7 L352.3,338.0 L352.4,339.3 L352.4,340.7 L352.5,342.1 L352.5,343.5 L352.5,345.0 L352.5,346.8 L352.5,348.9 L352.5,351.1 L352.5,353.5 L352.5,355.8 L352.5,358.1 L352.5,360.2 L352.5,362.2 L352.5,363.8 L352.5,365.0 Z"/>
<path d="M361.9,332.8 L361.6,331.9 L361.3,330.7 L360.9,329.3 L360.4,327.6 L359.9,325.8 L359.4,324.0 L358.8,322.1 L358.2,320.2 L357.6,318.4 L357.0,316.7 L356.3,315.1 L355.7,313.6 L355.0,312.2 L354.3,310.8 L353.6,309.5 L352.9,308.2 L352.2,306.9 L351.5,305.6 L350.9,304.2 L350.2,302.8 L349.6,301.2 L348.9,299.5 L348.3,297.8 L347.6,296.1 L347.0,294.4 L346.3,292.6 L345.7,290.8 L345.1,289.0 L344.5,287.1 L343.9,285.3 L343.4,283.3 L342.9,281.4 L342.4,279.3 L342.0,277.2 L341.5,275.1 L341.1,273.0 L340.7,270.9 L340.3,268.7 L339.9,266.6 L339.5,264.6 L339.1,262.5 L338.8,260.4 L338.4,258.3 L338.1,256.1 L337.7,254.0 L337.4,251.9 L337.1,249.9 L336.8,248.0 L336.5,246.2 L336.2,244.6 L335.8,243.1 L335.5,241.7 L335.2,240.5 L334.9,239.3 L334.6,238.2 L334.3,237.2 L334.0,236.4 L333.8,235.6 L333.6,235.0 L333.4,234.5 L329.6,235.5 L329.7,236.1 L329.9,236.8 L330.1,237.5 L330.3,238.4 L330.6,239.3 L330.8,240.3 L331.1,241.4 L331.3,242.7 L331.6,244.0 L331.8,245.4 L332.1,247.0 L332.3,248.7 L332.6,250.6 L332.8,252.6 L333.1,254.6 L333.3,256.8 L333.6,259.0 L333.9,261.1 L334.2,263.3 L334.5,265.4 L334.8,267.5 L335.1,269.6 L335.4,271.8 L335.8,273.9 L336.1,276.1 L336.4,278.3 L336.8,280.5 L337.2,282.6 L337.6,284.7 L338.1,286.7 L338.6,288.8 L339.1,290.7 L339.6,292.7 L340.2,294.6 L340.8,296.5 L341.4,298.3 L342.0,300.1 L342.6,301.9 L343.2,303.6 L343.8,305.2 L344.3,306.9 L344.9,308.5 L345.5,310.0 L346.1,311.4 L346.7,312.8 L347.2,314.1 L347.7,315.4 L348.2,316.7 L348.6,318.0 L349.0,319.3 L349.4,320.8 L349.8,322.5 L350.2,324.3 L350.5,326.1 L350.9,327.9 L351.2,329.7 L351.5,331.4 L351.7,332.9 L351.9,334.2 L352.1,335.2 Z"/>
<path d="M323.8,248.2 L328.4,240.4 L332.9,232.7 L328.3,230.3 L324.7,238.6 L321.2,246.8 Z"/>
<path d="M342.5,243.5 L337.5,236.7 L332.6,229.8 L328.6,233.2 L334.4,239.3 L340.1,245.5 Z"/>
<path d="M352.8,307.2 L352.1,306.5 L351.3,305.7 L350.3,304.7 L349.1,303.6 L347.9,302.4 L346.6,301.1 L345.4,299.9 L344.1,298.6 L342.9,297.4 L341.8,296.3 L340.8,295.3 L339.8,294.2 L338.8,293.1 L337.8,292.0 L336.8,290.8 L335.8,289.7 L334.8,288.6 L333.8,287.5 L332.7,286.4 L331.7,285.3 L330.6,284.3 L329.6,283.4 L328.6,282.4 L327.6,281.5 L326.5,280.5 L325.5,279.6 L324.4,278.7 L323.3,277.9 L322.2,277.1 L321.0,276.3 L319.8,275.6 L318.7,275.0 L317.5,274.4 L316.3,273.8 L315.1,273.3 L313.9,272.8 L312.7,272.4 L311.4,272.0 L310.1,271.6 L308.8,271.3 L307.5,271.0 L306.1,270.8 L304.7,270.6 L303.3,270.4 L301.9,270.3 L300.5,270.2 L299.0,270.1 L297.6,270.1 L296.2,270.1 L294.8,270.2 L293.4,270.3 L292.0,270.4 L290.7,270.6 L289.3,270.7 L287.9,271.0 L286.4,271.2 L285.0,271.6 L283.6,272.0 L282.1,272.4 L280.7,272.9 L279.2,273.5 L277.8,274.1 L276.3,274.7 L274.9,275.5 L273.4,276.2 L271.9,277.0 L270.4,277.9 L269.0,278.9 L267.5,279.9 L266.1,281.0 L264.7,282.2 L263.3,283.5 L261.9,284.8 L260.6,286.2 L259.4,287.6 L258.1,289.0 L256.9,290.4 L255.7,291.7 L254.5,293.0 L253.3,294.3 L252.0,295.4 L250.7,296.6 L249.3,297.8 L247.9,299.1 L246.4,300.3 L244.9,301.7 L243.5,303.0 L242.0,304.5 L240.7,306.0 L239.4,307.7 L238.2,309.4 L237.1,311.1 L236.1,312.9 L235.2,314.7 L234.3,316.5 L233.5,318.3 L232.7,320.0 L232.0,321.8 L231.3,323.5 L230.6,325.2 L229.9,326.9 L229.2,328.7 L228.6,330.4 L228.0,332.1 L227.4,333.8 L226.9,335.5 L226.4,337.2 L225.9,338.9 L225.4,340.6 L224.9,342.3 L224.5,344.0 L224.0,345.7 L223.6,347.4 L223.2,349.2 L222.8,350.9 L222.4,352.6 L222.0,354.3 L221.7,356.0 L221.4,357.7 L221.1,359.3 L220.8,360.9 L220.5,362.5 L220.3,364.1 L220.2,365.6 L220.0,367.1 L219.9,368.6 L219.8,370.1 L219.7,371.6 L219.6,373.1 L219.5,374.6 L219.4,376.1 L219.3,377.7 L219.2,379.4 L219.1,381.0 L219.0,382.6 L218.9,384.2 L218.8,385.7 L218.8,387.2 L218.7,388.5 L218.7,389.8 L218.6,390.9 L218.6,392.0 L218.6,393.0 L218.5,393.9 L218.5,394.8 L218.5,395.6 L218.5,396.3 L218.5,396.9 L218.5,397.4 L218.5,397.9 L223.5,398.1 L223.5,397.7 L223.6,397.1 L223.6,396.5 L223.7,395.8 L223.8,395.1 L223.9,394.2 L224.0,393.3 L224.1,392.4 L224.2,391.3 L224.3,390.2 L224.5,389.0 L224.7,387.7 L224.9,386.3 L225.1,384.8 L225.3,383.2 L225.5,381.7 L225.8,380.1 L226.0,378.5 L226.3,376.9 L226.5,375.4 L226.7,373.9 L227.0,372.4 L227.2,371.0 L227.4,369.5 L227.7,368.1 L227.9,366.6 L228.2,365.2 L228.4,363.7 L228.7,362.2 L228.9,360.7 L229.2,359.1 L229.5,357.5 L229.8,355.9 L230.2,354.3 L230.5,352.6 L230.9,351.0 L231.3,349.3 L231.7,347.6 L232.1,346.0 L232.6,344.3 L233.0,342.7 L233.5,341.1 L234.0,339.4 L234.5,337.8 L235.0,336.2 L235.5,334.6 L236.0,333.0 L236.6,331.4 L237.2,329.8 L237.8,328.2 L238.5,326.5 L239.2,324.8 L239.9,323.1 L240.7,321.4 L241.4,319.8 L242.2,318.2 L243.0,316.6 L243.8,315.1 L244.7,313.7 L245.6,312.3 L246.6,311.1 L247.7,309.8 L248.9,308.6 L250.2,307.4 L251.6,306.2 L253.0,305.0 L254.4,303.7 L255.9,302.4 L257.3,301.1 L258.7,299.7 L260.1,298.3 L261.4,296.9 L262.7,295.5 L263.9,294.1 L265.1,292.7 L266.3,291.4 L267.5,290.2 L268.6,289.0 L269.8,288.0 L270.9,287.0 L272.1,286.1 L273.3,285.3 L274.5,284.4 L275.8,283.7 L277.1,283.0 L278.3,282.3 L279.6,281.7 L280.9,281.1 L282.1,280.6 L283.3,280.1 L284.5,279.7 L285.7,279.3 L286.9,279.0 L288.0,278.7 L289.2,278.5 L290.4,278.3 L291.6,278.1 L292.8,278.0 L294.0,277.9 L295.2,277.8 L296.4,277.7 L297.6,277.7 L298.9,277.7 L300.1,277.8 L301.3,277.8 L302.6,278.0 L303.8,278.1 L304.9,278.3 L306.1,278.5 L307.2,278.7 L308.2,278.9 L309.3,279.2 L310.3,279.6 L311.3,279.9 L312.3,280.3 L313.2,280.7 L314.2,281.1 L315.1,281.6 L316.1,282.1 L317.0,282.7 L317.9,283.3 L318.8,283.9 L319.7,284.6 L320.7,285.4 L321.6,286.2 L322.5,287.0 L323.5,287.9 L324.4,288.8 L325.4,289.7 L326.3,290.7 L327.3,291.6 L328.2,292.6 L329.1,293.7 L330.1,294.7 L331.1,295.9 L332.0,297.0 L333.0,298.2 L334.1,299.3 L335.1,300.5 L336.2,301.7 L337.3,302.9 L338.5,304.1 L339.8,305.4 L341.1,306.7 L342.3,308.0 L343.6,309.2 L344.7,310.3 L345.7,311.3 L346.5,312.2 L347.2,312.8 Z"/>
<path d="M204.9,377.7 L211.8,390.1 L218.7,402.5 L223.3,399.5 L215.2,387.9 L207.1,376.3 Z"/>
<path d="M235.9,371.4 L227.2,385.5 L218.6,399.7 L223.4,402.3 L230.8,387.5 L238.1,372.6 Z"/>
<path d="M372.2,317.8 L372.2,316.8 L372.1,315.4 L372.0,313.8 L371.9,312.0 L371.7,310.1 L371.6,308.0 L371.5,305.9 L371.3,303.8 L371.2,301.8 L371.1,299.8 L371.0,297.9 L370.8,296.0 L370.7,294.1 L370.6,292.1 L370.5,290.1 L370.4,288.1 L370.3,286.1 L370.1,284.0 L370.0,281.9 L369.9,279.9 L369.8,277.8 L369.7,275.7 L369.5,273.7 L369.4,271.6 L369.3,269.5 L369.2,267.3 L369.1,265.1 L368.9,262.8 L368.8,260.4 L368.6,257.9 L368.5,255.1 L368.3,251.9 L368.1,248.6 L367.9,245.1 L367.7,241.6 L367.5,238.2 L367.4,235.0 L367.2,232.1 L367.1,229.8 L367.0,227.9 L363.0,228.1 L363.0,229.9 L363.0,232.3 L363.1,235.1 L363.1,238.3 L363.2,241.7 L363.2,245.2 L363.2,248.7 L363.3,252.1 L363.3,255.3 L363.4,258.1 L363.4,260.6 L363.5,263.1 L363.5,265.4 L363.6,267.6 L363.7,269.8 L363.8,271.9 L363.9,273.9 L363.9,276.0 L364.0,278.1 L364.1,280.1 L364.2,282.2 L364.3,284.3 L364.3,286.4 L364.4,288.4 L364.5,290.4 L364.6,292.4 L364.7,294.4 L364.8,296.3 L364.8,298.2 L364.9,300.2 L365.0,302.1 L365.1,304.2 L365.2,306.3 L365.3,308.4 L365.4,310.4 L365.5,312.4 L365.6,314.2 L365.6,315.8 L365.7,317.1 L365.8,318.2 Z"/>
<path d="M357.0,241.2 L362.1,233.3 L367.3,225.3 L362.7,222.7 L358.6,231.2 L354.4,239.8 Z"/>
<path d="M375.9,237.7 L371.6,230.1 L367.2,222.6 L362.8,225.4 L368.1,232.4 L373.5,239.3 Z"/>
<path d="M361.2,321.1 L361.9,320.4 L362.8,319.4 L363.9,318.3 L365.0,317.1 L366.3,315.8 L367.6,314.4 L368.9,313.0 L370.2,311.7 L371.6,310.5 L372.8,309.3 L374.1,308.2 L375.5,307.1 L376.9,306.0 L378.4,304.9 L379.9,303.8 L381.4,302.7 L382.9,301.6 L384.4,300.6 L385.9,299.5 L387.4,298.5 L388.9,297.4 L390.2,296.4 L391.5,295.5 L392.8,294.5 L394.0,293.6 L395.3,292.8 L396.5,292.0 L397.8,291.2 L399.2,290.5 L400.7,289.7 L402.4,289.0 L404.2,288.2 L406.1,287.4 L408.0,286.6 L410.0,285.9 L412.0,285.3 L414.0,284.7 L415.9,284.2 L417.8,283.8 L419.6,283.5 L421.4,283.2 L423.3,283.0 L425.2,282.9 L427.0,282.8 L428.8,282.8 L430.5,282.9 L432.1,283.1 L433.7,283.4 L435.1,283.7 L436.5,284.2 L437.8,284.8 L439.0,285.5 L440.3,286.4 L441.5,287.3 L442.7,288.4 L443.9,289.6 L445.1,290.9 L446.4,292.3 L447.6,293.8 L448.8,295.4 L450.0,297.1 L451.2,298.8 L452.4,300.8 L453.5,302.8 L454.7,305.0 L455.9,307.1 L457.0,309.4 L458.0,311.6 L459.1,313.9 L460.0,316.1 L460.9,318.3 L461.8,320.5 L462.7,322.7 L463.5,325.0 L464.3,327.3 L465.0,329.6 L465.7,331.9 L466.3,334.2 L466.9,336.5 L467.5,338.8 L468.1,341.0 L468.5,343.2 L469.0,345.4 L469.4,347.5 L469.8,349.7 L470.1,351.9 L470.4,354.1 L470.7,356.4 L470.9,358.7 L471.1,361.2 L471.4,363.8 L471.5,366.9 L471.6,370.1 L471.6,373.4 L471.6,376.8 L471.6,380.0 L471.6,383.1 L471.5,385.8 L471.5,388.1 L471.5,389.9 L476.5,390.1 L476.7,388.4 L476.9,386.1 L477.2,383.4 L477.5,380.4 L477.8,377.1 L478.2,373.7 L478.4,370.3 L478.7,366.9 L478.8,363.7 L478.9,360.8 L478.8,358.2 L478.6,355.6 L478.4,353.1 L478.0,350.7 L477.7,348.4 L477.3,346.1 L476.8,343.8 L476.4,341.5 L475.8,339.2 L475.3,336.8 L474.7,334.5 L474.0,332.1 L473.4,329.6 L472.6,327.2 L471.9,324.8 L471.0,322.4 L470.2,320.0 L469.3,317.6 L468.4,315.2 L467.4,312.9 L466.4,310.6 L465.3,308.3 L464.2,305.9 L463.0,303.5 L461.8,301.2 L460.5,298.9 L459.2,296.7 L457.9,294.5 L456.6,292.5 L455.2,290.6 L453.9,288.9 L452.5,287.2 L451.1,285.6 L449.7,284.0 L448.2,282.5 L446.6,281.2 L445.0,279.9 L443.3,278.7 L441.4,277.7 L439.5,276.8 L437.5,276.1 L435.4,275.5 L433.3,275.2 L431.1,274.9 L429.0,274.8 L426.8,274.8 L424.7,274.9 L422.6,275.1 L420.5,275.3 L418.4,275.5 L416.3,275.9 L414.0,276.4 L411.8,277.0 L409.6,277.6 L407.4,278.3 L405.2,279.1 L403.1,279.9 L401.1,280.7 L399.1,281.5 L397.3,282.3 L395.5,283.1 L393.8,284.0 L392.2,284.9 L390.7,285.9 L389.3,286.8 L388.0,287.7 L386.6,288.7 L385.3,289.6 L384.0,290.6 L382.6,291.5 L381.1,292.5 L379.6,293.6 L378.0,294.6 L376.5,295.7 L374.9,296.8 L373.3,298.0 L371.7,299.1 L370.2,300.3 L368.6,301.5 L367.2,302.7 L365.7,304.0 L364.2,305.3 L362.7,306.8 L361.3,308.2 L359.9,309.6 L358.6,310.9 L357.4,312.2 L356.3,313.3 L355.5,314.2 L354.8,314.9 Z"/>
<path d="M458.9,368.6 L464.7,381.9 L470.5,395.2 L475.5,392.8 L468.3,380.1 L461.1,367.4 Z"/>
<path d="M487.9,367.3 L479.3,380.0 L470.7,392.6 L475.3,395.4 L482.7,382.0 L490.1,368.7 Z"/>
</g>
<path d="M360.4,375.4 L360.0,376.9 L359.5,378.7 L358.8,380.9 L358.1,383.4 L357.3,386.1 L356.4,388.9 L355.6,391.8 L354.8,394.6 L354.0,397.4 L353.4,400.1 L352.8,402.5 L352.2,405.0 L351.7,407.5 L351.1,409.9 L350.5,412.3 L350.0,414.7 L349.4,417.2 L348.9,419.6 L348.3,422.1 L347.8,424.6 L347.3,427.2 L346.7,429.8 L346.2,432.5 L345.7,435.1 L345.2,437.8 L344.7,440.5 L344.2,443.2 L343.8,445.8 L343.4,448.5 L343.0,451.0 L342.6,453.5 L342.2,456.0 L341.9,458.4 L341.5,460.9 L341.2,463.3 L340.9,465.8 L340.6,468.2 L340.4,470.7 L340.3,473.2 L340.1,475.8 L340.1,478.4 L340.1,481.0 L340.2,483.7 L340.3,486.3 L340.5,488.9 L340.6,491.5 L340.8,493.9 L341.0,496.3 L341.2,498.4 L341.4,500.5 L341.6,502.4 L341.8,504.3 L342.1,506.1 L342.3,507.8 L342.6,509.4 L342.8,510.8 L343.1,512.1 L343.3,513.2 L343.4,514.1 L343.6,514.9 L354.4,513.1 L354.3,512.3 L354.1,511.3 L354.0,510.2 L353.8,509.0 L353.5,507.6 L353.3,506.2 L353.1,504.6 L352.9,503.0 L352.8,501.3 L352.6,499.5 L352.5,497.6 L352.3,495.4 L352.2,493.1 L352.0,490.8 L351.9,488.3 L351.8,485.8 L351.8,483.4 L351.7,480.9 L351.8,478.5 L351.9,476.2 L352.0,474.0 L352.2,471.7 L352.4,469.5 L352.7,467.2 L353.1,464.9 L353.4,462.6 L353.8,460.3 L354.2,457.9 L354.6,455.4 L355.0,453.0 L355.5,450.5 L355.9,448.0 L356.4,445.4 L356.9,442.8 L357.4,440.2 L358.0,437.6 L358.5,435.0 L359.1,432.4 L359.6,429.9 L360.2,427.4 L360.8,424.9 L361.3,422.5 L361.9,420.1 L362.5,417.8 L363.1,415.4 L363.7,413.1 L364.4,410.8 L365.1,408.5 L365.9,406.2 L366.6,403.9 L367.5,401.6 L368.4,399.0 L369.4,396.3 L370.4,393.6 L371.5,390.9 L372.5,388.4 L373.4,386.0 L374.3,383.8 L375.0,382.0 L375.6,380.6 Z" fill="#de383e"/>
<path d="M344.7,444.5 L343.3,444.7 L341.6,444.9 L339.5,445.2 L337.2,445.5 L334.7,445.9 L332.1,446.2 L329.4,446.6 L326.7,447.0 L324.1,447.4 L321.7,447.8 L319.2,448.2 L316.5,448.6 L313.8,449.1 L311.0,449.6 L308.2,450.1 L305.6,450.6 L303.1,451.0 L300.9,451.4 L299.1,451.8 L297.7,452.0 L298.3,456.0 L299.8,455.7 L301.6,455.4 L303.8,455.1 L306.3,454.7 L308.9,454.3 L311.7,453.8 L314.5,453.4 L317.2,453.0 L319.9,452.6 L322.3,452.2 L324.8,451.9 L327.3,451.6 L330.0,451.2 L332.7,450.9 L335.3,450.6 L337.8,450.3 L340.1,450.1 L342.2,449.8 L343.9,449.6 L345.3,449.5 Z" fill="#de383e"/>
<path d="M351.3,451.4 L352.2,451.6 L353.3,451.9 L354.6,452.3 L356.0,452.6 L357.6,453.0 L359.2,453.5 L360.9,453.9 L362.5,454.3 L364.0,454.7 L365.3,455.1 L366.7,455.5 L368.0,455.9 L369.4,456.4 L370.8,456.8 L372.2,457.2 L373.5,457.7 L374.7,458.0 L375.7,458.4 L376.6,458.7 L377.4,458.9 L378.6,455.1 L377.9,454.9 L377.1,454.5 L376.0,454.2 L374.8,453.7 L373.5,453.3 L372.2,452.8 L370.8,452.3 L369.4,451.8 L368.0,451.3 L366.7,450.9 L365.3,450.4 L363.7,449.9 L362.1,449.4 L360.5,448.9 L358.9,448.5 L357.3,448.0 L355.9,447.6 L354.6,447.2 L353.5,446.8 L352.7,446.6 Z" fill="#de383e"/>
<path d="M371.4,417.9 L365.6,418.6 L359.8,419.2 L360.2,421.8 L365.9,420.4 L371.6,419.1 Z" fill="#de383e"/>
<path d="M366.5,430.2 L363.8,425.0 L361.1,419.8 L358.9,421.2 L362.2,426.0 L365.5,430.8 Z" fill="#de383e"/>
<path d="M352.3,438.6 L353.2,439.0 L354.5,439.4 L356.0,440.0 L357.7,440.6 L359.4,441.3 L361.2,442.0 L362.9,442.6 L364.4,443.2 L365.7,443.7 L366.6,444.0 L367.4,442.0 L366.6,441.6 L365.3,441.0 L363.9,440.3 L362.3,439.5 L360.6,438.7 L358.9,437.9 L357.2,437.1 L355.8,436.4 L354.6,435.8 L353.7,435.4 Z" fill="#de383e"/>
<path d="M340.8,464.8 L339.6,465.9 L338.1,467.4 L336.3,469.2 L334.2,471.2 L332.1,473.4 L329.8,475.6 L327.6,477.9 L325.5,480.1 L323.6,482.1 L321.9,484.0 L320.4,485.7 L319.1,487.3 L317.8,488.9 L316.6,490.4 L315.5,491.9 L314.4,493.3 L313.4,494.8 L312.4,496.3 L311.5,497.8 L310.7,499.4 L309.8,501.0 L309.1,502.6 L308.4,504.2 L307.8,505.8 L307.2,507.4 L306.7,509.0 L306.2,510.6 L305.8,512.1 L305.3,513.7 L304.9,515.3 L304.5,516.9 L304.1,518.7 L303.7,520.5 L303.4,522.3 L303.1,524.1 L302.8,525.8 L302.6,527.4 L302.4,528.7 L302.2,529.9 L302.0,530.8 L304.0,531.2 L304.2,530.3 L304.4,529.1 L304.6,527.7 L304.9,526.1 L305.2,524.5 L305.5,522.7 L305.9,520.9 L306.3,519.2 L306.7,517.5 L307.1,515.9 L307.6,514.4 L308.0,512.8 L308.5,511.3 L309.0,509.7 L309.5,508.2 L310.1,506.6 L310.7,505.1 L311.4,503.6 L312.1,502.1 L312.9,500.6 L313.8,499.2 L314.7,497.7 L315.6,496.3 L316.6,495.0 L317.7,493.6 L318.8,492.1 L320.0,490.7 L321.3,489.2 L322.6,487.6 L324.1,486.0 L325.8,484.2 L327.7,482.2 L329.8,480.1 L332.1,477.9 L334.3,475.7 L336.6,473.6 L338.6,471.6 L340.5,469.9 L342.0,468.4 L343.2,467.2 Z" fill="#de383e"/>
<path d="M354.6,471.1 L355.6,472.3 L356.9,473.8 L358.4,475.6 L360.1,477.6 L361.9,479.7 L363.7,481.9 L365.5,484.1 L367.1,486.2 L368.6,488.1 L369.8,489.8 L370.8,491.3 L371.6,492.6 L372.3,493.7 L372.9,494.8 L373.4,495.8 L373.9,496.9 L374.3,498.0 L374.8,499.3 L375.2,500.7 L375.8,502.4 L376.3,504.3 L376.9,506.6 L377.5,509.2 L378.1,511.9 L378.7,514.7 L379.2,517.4 L379.7,519.9 L380.1,522.2 L380.5,524.1 L380.8,525.5 L382.8,525.1 L382.5,523.7 L382.2,521.8 L381.8,519.5 L381.4,517.0 L380.9,514.2 L380.4,511.5 L379.9,508.7 L379.3,506.1 L378.8,503.7 L378.2,501.6 L377.7,499.9 L377.3,498.4 L376.8,497.1 L376.4,495.8 L375.9,494.7 L375.3,493.5 L374.7,492.3 L374.0,491.1 L373.2,489.7 L372.2,488.2 L371.0,486.4 L369.5,484.4 L367.9,482.2 L366.2,479.9 L364.4,477.7 L362.6,475.5 L361.0,473.4 L359.5,471.6 L358.3,470.1 L357.4,468.9 Z" fill="#de383e"/>
<path d="M351.0,489.7 L352.1,490.3 L353.6,491.1 L355.5,492.1 L357.5,493.2 L359.7,494.4 L361.8,495.6 L363.9,496.7 L365.7,497.7 L367.3,498.5 L368.4,499.1 L369.6,496.9 L368.6,496.2 L367.1,495.3 L365.3,494.2 L363.4,492.9 L361.3,491.6 L359.3,490.3 L357.3,489.0 L355.5,487.9 L354.1,487.0 L353.0,486.3 Z" fill="#b52a3c"/>
<path d="M344.1,506.9 L343.2,508.0 L342.1,509.5 L340.7,511.2 L339.2,513.1 L337.6,515.2 L335.9,517.4 L334.1,519.6 L332.4,521.8 L330.7,524.0 L329.2,526.0 L327.7,527.8 L326.2,529.6 L324.7,531.3 L323.1,533.2 L321.5,535.0 L319.9,537.0 L318.2,539.1 L316.6,541.3 L315.1,543.7 L313.5,546.2 L312.1,548.9 L310.7,551.8 L309.4,554.7 L308.1,557.7 L306.8,560.8 L305.6,564.0 L304.4,567.1 L303.2,570.2 L302.2,573.3 L301.1,576.3 L300.1,579.3 L299.2,582.3 L298.3,585.3 L297.5,588.2 L296.6,591.2 L295.9,594.2 L295.1,597.2 L294.5,600.2 L293.8,603.1 L293.2,606.1 L292.7,609.1 L292.2,612.2 L291.7,615.2 L291.3,618.3 L291.0,621.3 L290.6,624.3 L290.3,627.2 L290.0,630.1 L289.8,632.9 L289.5,635.6 L289.2,638.2 L289.0,640.8 L288.8,643.4 L288.6,645.9 L288.4,648.4 L288.3,650.9 L288.3,653.2 L288.3,655.5 L288.4,657.7 L288.4,659.9 L288.5,662.0 L288.6,664.2 L288.8,666.2 L289.0,668.2 L289.2,670.1 L289.4,671.9 L289.6,673.5 L289.8,674.9 L289.9,676.1 L290.0,677.1 L295.0,676.9 L295.0,675.9 L295.0,674.7 L295.0,673.2 L295.1,671.6 L295.1,669.9 L295.1,668.0 L295.2,666.1 L295.3,664.1 L295.4,662.1 L295.6,660.1 L295.8,658.1 L296.0,655.9 L296.3,653.7 L296.6,651.4 L296.9,649.1 L297.1,646.6 L297.3,644.2 L297.5,641.6 L297.8,639.1 L298.1,636.4 L298.4,633.7 L298.7,631.0 L299.0,628.1 L299.3,625.3 L299.7,622.3 L300.1,619.4 L300.5,616.5 L300.9,613.6 L301.4,610.7 L302.0,607.9 L302.6,605.0 L303.2,602.2 L303.9,599.3 L304.6,596.5 L305.4,593.6 L306.2,590.7 L307.1,587.9 L308.0,585.0 L308.9,582.2 L309.9,579.3 L310.9,576.4 L312.0,573.4 L313.1,570.4 L314.3,567.4 L315.5,564.4 L316.7,561.4 L318.0,558.6 L319.3,555.9 L320.6,553.3 L321.9,551.0 L323.2,548.8 L324.5,546.8 L325.9,544.9 L327.4,543.1 L328.9,541.3 L330.4,539.5 L332.0,537.7 L333.6,535.9 L335.2,534.0 L336.8,532.0 L338.4,530.0 L340.1,527.9 L341.9,525.7 L343.6,523.5 L345.3,521.3 L347.0,519.3 L348.5,517.4 L349.9,515.7 L351.0,514.2 L351.9,513.1 Z" fill="#de383e"/>
<path d="M273.0,656.5 L282.1,669.9 L291.2,683.3 L296.0,679.7 L285.7,667.2 L275.4,654.7 Z" fill="#de383e"/>
<path d="M300.0,655.7 L295.3,668.1 L290.7,680.6 L296.5,682.4 L299.7,669.5 L302.8,656.5 Z" fill="#de383e"/>
<path d="M346.4,514.5 L347.0,515.0 L347.7,515.7 L348.3,516.1 L348.8,516.6 L349.3,517.0 L349.8,517.5 L350.4,518.2 L351.0,519.1 L351.8,520.3 L352.6,521.7 L353.5,523.7 L354.6,526.0 L355.8,528.6 L357.0,531.5 L358.3,534.6 L359.6,537.8 L360.9,541.0 L362.1,544.2 L363.4,547.3 L364.5,550.3 L365.7,553.2 L366.8,556.1 L367.9,559.0 L369.0,561.9 L370.1,564.8 L371.2,567.7 L372.2,570.5 L373.2,573.4 L374.1,576.3 L375.0,579.1 L375.8,582.0 L376.6,584.8 L377.4,587.7 L378.1,590.6 L378.8,593.4 L379.5,596.3 L380.1,599.2 L380.7,602.1 L381.3,604.9 L381.8,607.8 L382.3,610.7 L382.8,613.7 L383.3,616.8 L383.7,619.9 L384.2,623.0 L384.5,626.0 L384.9,628.9 L385.2,631.6 L385.5,634.2 L385.7,636.4 L385.9,638.4 L386.1,640.0 L386.2,641.4 L386.3,642.7 L386.3,643.8 L386.4,644.8 L386.5,645.9 L386.5,647.0 L386.6,648.4 L386.7,649.9 L386.7,651.6 L386.7,653.5 L386.7,655.7 L386.7,657.9 L386.7,660.1 L386.6,662.3 L386.6,664.3 L386.6,666.1 L386.5,667.6 L386.5,668.8 L391.5,669.2 L391.7,668.1 L391.9,666.6 L392.2,664.8 L392.5,662.8 L392.9,660.6 L393.2,658.4 L393.6,656.2 L393.9,654.0 L394.1,652.0 L394.3,650.1 L394.5,648.6 L394.6,647.2 L394.7,645.9 L394.8,644.7 L394.8,643.5 L394.8,642.2 L394.7,640.9 L394.6,639.3 L394.5,637.6 L394.3,635.6 L394.1,633.3 L393.8,630.7 L393.5,627.9 L393.2,625.0 L392.8,621.9 L392.4,618.8 L392.0,615.6 L391.6,612.4 L391.1,609.2 L390.6,606.2 L390.1,603.3 L389.5,600.3 L388.9,597.3 L388.3,594.4 L387.6,591.4 L386.9,588.4 L386.2,585.4 L385.5,582.5 L384.7,579.5 L383.8,576.5 L382.9,573.5 L382.0,570.5 L381.0,567.5 L380.0,564.6 L378.9,561.6 L377.9,558.6 L376.8,555.7 L375.7,552.7 L374.6,549.8 L373.5,546.9 L372.3,543.9 L371.1,540.7 L369.9,537.4 L368.6,534.2 L367.3,530.9 L366.0,527.8 L364.8,524.8 L363.6,522.0 L362.5,519.5 L361.4,517.3 L360.3,515.3 L359.3,513.6 L358.2,512.1 L357.2,510.9 L356.2,509.9 L355.3,509.0 L354.6,508.4 L354.1,508.0 L353.8,507.8 L353.6,507.5 Z" fill="#de383e"/>
<path d="M379.0,647.6 L381.9,661.0 L384.8,674.3 L390.6,672.7 L386.2,659.7 L381.8,646.8 Z" fill="#de383e"/>
<path d="M406.5,646.3 L395.9,659.0 L385.3,671.7 L390.1,675.3 L399.5,661.7 L408.9,648.1 Z" fill="#de383e"/>
<path d="M317.8,548.1 L318.3,548.6 L318.9,549.4 L319.6,550.2 L320.5,551.2 L321.3,552.2 L322.1,553.2 L322.9,554.2 L323.6,555.3 L324.2,556.2 L324.7,557.1 L325.0,557.9 L325.2,558.9 L325.4,560.0 L325.6,561.2 L325.7,562.4 L325.7,563.5 L325.8,564.6 L325.8,565.6 L325.8,566.4 L325.9,567.1 L328.9,566.9 L328.9,566.3 L328.9,565.5 L328.9,564.6 L329.0,563.5 L329.0,562.2 L329.0,561.0 L328.9,559.7 L328.7,558.3 L328.5,557.0 L328.1,555.7 L327.6,554.5 L327.0,553.2 L326.2,552.0 L325.4,550.8 L324.6,549.6 L323.8,548.5 L323.0,547.5 L322.3,546.6 L321.8,545.9 L321.4,545.3 Z" fill="#de383e"/>
<path d="M319.9,562.8 L322.5,567.1 L325.2,571.4 L327.6,569.6 L324.5,565.7 L321.3,561.8 Z" fill="#de383e"/>
<path d="M332.6,564.5 L329.1,566.9 L325.5,569.3 L327.3,571.7 L330.5,568.8 L333.8,565.9 Z" fill="#de383e"/>
<path d="M361.0,539.0 L360.8,539.5 L360.5,540.0 L360.2,540.6 L359.8,541.4 L359.4,542.3 L359.0,543.2 L358.5,544.2 L358.2,545.3 L357.8,546.4 L357.5,547.6 L357.3,548.7 L357.2,550.0 L357.1,551.3 L357.1,552.6 L357.0,554.0 L357.0,555.3 L357.0,556.6 L356.9,557.7 L356.9,558.8 L356.8,559.8 L356.7,560.7 L356.6,561.5 L356.5,562.4 L356.3,563.1 L356.2,563.9 L356.0,564.6 L355.9,565.2 L355.7,565.8 L355.6,566.2 L355.5,566.7 L358.5,567.3 L358.6,567.0 L358.7,566.5 L358.8,566.0 L359.0,565.3 L359.2,564.6 L359.4,563.8 L359.6,563.0 L359.8,562.1 L360.0,561.2 L360.2,560.2 L360.3,559.1 L360.4,558.0 L360.5,556.7 L360.6,555.5 L360.7,554.2 L360.8,552.9 L360.9,551.6 L361.1,550.4 L361.3,549.4 L361.5,548.4 L361.7,547.6 L362.0,546.7 L362.4,545.9 L362.8,545.0 L363.2,544.2 L363.7,543.4 L364.1,542.7 L364.4,542.1 L364.8,541.5 L365.0,541.0 Z" fill="#de383e"/>
<path d="M351.9,564.5 L354.1,568.0 L356.3,571.4 L358.7,569.6 L356.0,566.5 L353.3,563.5 Z" fill="#de383e"/>
<path d="M364.6,561.4 L360.5,565.4 L356.4,569.5 L358.6,571.5 L362.3,567.1 L366.0,562.6 Z" fill="#de383e"/>
<path d="M363.5,365.0 L363.5,363.8 L363.5,362.2 L363.5,360.2 L363.5,358.1 L363.5,355.8 L363.5,353.5 L363.5,351.1 L363.5,348.9 L363.5,346.8 L363.5,345.0 L363.5,343.3 L363.4,341.8 L363.4,340.3 L363.4,339.0 L363.3,337.7 L363.3,336.6 L363.3,335.5 L363.3,334.5 L363.4,333.6 L363.5,332.7 L363.6,331.7 L363.8,330.7 L363.9,329.7 L364.1,328.8 L364.2,328.0 L364.5,327.2 L364.7,326.5 L364.9,325.9 L365.1,325.3 L365.4,324.8 L365.7,324.4 L366.0,323.9 L366.4,323.5 L366.8,323.1 L367.2,322.7 L367.7,322.3 L368.2,322.0 L368.7,321.6 L369.2,321.4 L369.7,321.1 L370.2,320.9 L370.7,320.8 L371.3,320.6 L372.0,320.5 L372.7,320.4 L373.4,320.4 L374.1,320.4 L374.7,320.5 L375.4,320.7 L376.0,320.8 L376.7,321.0 L377.3,321.3 L377.9,321.5 L378.5,321.8 L379.1,322.1 L379.5,322.4 L380.0,322.7 L380.4,323.0 L380.7,323.4 L381.0,323.8 L381.4,324.3 L381.8,324.9 L382.2,325.5 L382.5,326.2 L382.9,327.0 L383.2,327.8 L383.4,328.6 L383.7,329.4 L383.8,330.3 L384.0,331.2 L384.0,332.1 L384.0,333.0 L384.0,334.1 L383.9,335.3 L383.9,336.7 L383.8,338.1 L383.7,339.6 L383.7,341.3 L383.6,343.0 L383.5,344.8 L383.4,346.6 L383.4,348.7 L383.2,350.9 L383.1,353.3 L383.0,355.6 L382.9,357.8 L382.8,359.9 L382.7,361.8 L382.6,363.4 L382.5,364.7 L395.5,365.3 L395.6,364.1 L395.6,362.6 L395.7,360.7 L395.9,358.6 L396.0,356.3 L396.1,353.9 L396.2,351.6 L396.3,349.3 L396.4,347.1 L396.5,345.2 L396.6,343.6 L396.6,341.9 L396.7,340.3 L396.8,338.7 L396.9,337.1 L396.9,335.5 L396.8,333.8 L396.6,332.2 L396.4,330.5 L396.0,328.8 L395.6,327.2 L395.1,325.7 L394.5,324.3 L393.8,322.9 L393.1,321.6 L392.4,320.4 L391.6,319.3 L390.8,318.2 L389.9,317.2 L389.0,316.2 L388.0,315.3 L386.9,314.5 L385.7,313.7 L384.6,313.1 L383.4,312.6 L382.3,312.2 L381.2,311.9 L380.1,311.6 L379.0,311.3 L378.0,311.2 L376.9,311.0 L375.7,310.9 L374.6,310.9 L373.4,310.9 L372.2,310.9 L371.0,310.9 L369.8,311.0 L368.6,311.2 L367.4,311.5 L366.3,311.9 L365.2,312.3 L364.1,312.8 L363.1,313.3 L362.0,313.9 L361.0,314.6 L360.1,315.4 L359.1,316.2 L358.2,317.1 L357.4,318.1 L356.6,319.2 L355.9,320.3 L355.3,321.5 L354.8,322.6 L354.3,323.8 L353.9,325.1 L353.5,326.3 L353.2,327.5 L352.9,328.8 L352.7,330.0 L352.5,331.3 L352.4,332.7 L352.3,334.1 L352.3,335.4 L352.3,336.7 L352.3,338.0 L352.4,339.3 L352.4,340.7 L352.5,342.1 L352.5,343.5 L352.5,345.0 L352.5,346.8 L352.5,348.9 L352.5,351.1 L352.5,353.5 L352.5,355.8 L352.5,358.1 L352.5,360.2 L352.5,362.2 L352.5,363.8 L352.5,365.0 Z" fill="#de383e"/>
<path d="M361.9,332.8 L361.6,331.9 L361.3,330.7 L360.9,329.3 L360.4,327.6 L359.9,325.8 L359.4,324.0 L358.8,322.1 L358.2,320.2 L357.6,318.4 L357.0,316.7 L356.3,315.1 L355.7,313.6 L355.0,312.2 L354.3,310.8 L353.6,309.5 L352.9,308.2 L352.2,306.9 L351.5,305.6 L350.9,304.2 L350.2,302.8 L349.6,301.2 L348.9,299.5 L348.3,297.8 L347.6,296.1 L347.0,294.4 L346.3,292.6 L345.7,290.8 L345.1,289.0 L344.5,287.1 L343.9,285.3 L343.4,283.3 L342.9,281.4 L342.4,279.3 L342.0,277.2 L341.5,275.1 L341.1,273.0 L340.7,270.9 L340.3,268.7 L339.9,266.6 L339.5,264.6 L339.1,262.5 L338.8,260.4 L338.4,258.3 L338.1,256.1 L337.7,254.0 L337.4,251.9 L337.1,249.9 L336.8,248.0 L336.5,246.2 L336.2,244.6 L335.8,243.1 L335.5,241.7 L335.2,240.5 L334.9,239.3 L334.6,238.2 L334.3,237.2 L334.0,236.4 L333.8,235.6 L333.6,235.0 L333.4,234.5 L329.6,235.5 L329.7,236.1 L329.9,236.8 L330.1,237.5 L330.3,238.4 L330.6,239.3 L330.8,240.3 L331.1,241.4 L331.3,242.7 L331.6,244.0 L331.8,245.4 L332.1,247.0 L332.3,248.7 L332.6,250.6 L332.8,252.6 L333.1,254.6 L333.3,256.8 L333.6,259.0 L333.9,261.1 L334.2,263.3 L334.5,265.4 L334.8,267.5 L335.1,269.6 L335.4,271.8 L335.8,273.9 L336.1,276.1 L336.4,278.3 L336.8,280.5 L337.2,282.6 L337.6,284.7 L338.1,286.7 L338.6,288.8 L339.1,290.7 L339.6,292.7 L340.2,294.6 L340.8,296.5 L341.4,298.3 L342.0,300.1 L342.6,301.9 L343.2,303.6 L343.8,305.2 L344.3,306.9 L344.9,308.5 L345.5,310.0 L346.1,311.4 L346.7,312.8 L347.2,314.1 L347.7,315.4 L348.2,316.7 L348.6,318.0 L349.0,319.3 L349.4,320.8 L349.8,322.5 L350.2,324.3 L350.5,326.1 L350.9,327.9 L351.2,329.7 L351.5,331.4 L351.7,332.9 L351.9,334.2 L352.1,335.2 Z" fill="#de383e"/>
<path d="M323.8,248.2 L328.4,240.4 L332.9,232.7 L328.3,230.3 L324.7,238.6 L321.2,246.8 Z" fill="#de383e"/>
<path d="M342.5,243.5 L337.5,236.7 L332.6,229.8 L328.6,233.2 L334.4,239.3 L340.1,245.5 Z" fill="#de383e"/>
<path d="M352.8,307.2 L352.1,306.5 L351.3,305.7 L350.3,304.7 L349.1,303.6 L347.9,302.4 L346.6,301.1 L345.4,299.9 L344.1,298.6 L342.9,297.4 L341.8,296.3 L340.8,295.3 L339.8,294.2 L338.8,293.1 L337.8,292.0 L336.8,290.8 L335.8,289.7 L334.8,288.6 L333.8,287.5 L332.7,286.4 L331.7,285.3 L330.6,284.3 L329.6,283.4 L328.6,282.4 L327.6,281.5 L326.5,280.5 L325.5,279.6 L324.4,278.7 L323.3,277.9 L322.2,277.1 L321.0,276.3 L319.8,275.6 L318.7,275.0 L317.5,274.4 L316.3,273.8 L315.1,273.3 L313.9,272.8 L312.7,272.4 L311.4,272.0 L310.1,271.6 L308.8,271.3 L307.5,271.0 L306.1,270.8 L304.7,270.6 L303.3,270.4 L301.9,270.3 L300.5,270.2 L299.0,270.1 L297.6,270.1 L296.2,270.1 L294.8,270.2 L293.4,270.3 L292.0,270.4 L290.7,270.6 L289.3,270.7 L287.9,271.0 L286.4,271.2 L285.0,271.6 L283.6,272.0 L282.1,272.4 L280.7,272.9 L279.2,273.5 L277.8,274.1 L276.3,274.7 L274.9,275.5 L273.4,276.2 L271.9,277.0 L270.4,277.9 L269.0,278.9 L267.5,279.9 L266.1,281.0 L264.7,282.2 L263.3,283.5 L261.9,284.8 L260.6,286.2 L259.4,287.6 L258.1,289.0 L256.9,290.4 L255.7,291.7 L254.5,293.0 L253.3,294.3 L252.0,295.4 L250.7,296.6 L249.3,297.8 L247.9,299.1 L246.4,300.3 L244.9,301.7 L243.5,303.0 L242.0,304.5 L240.7,306.0 L239.4,307.7 L238.2,309.4 L237.1,311.1 L236.1,312.9 L235.2,314.7 L234.3,316.5 L233.5,318.3 L232.7,320.0 L232.0,321.8 L231.3,323.5 L230.6,325.2 L229.9,326.9 L229.2,328.7 L228.6,330.4 L228.0,332.1 L227.4,333.8 L226.9,335.5 L226.4,337.2 L225.9,338.9 L225.4,340.6 L224.9,342.3 L224.5,344.0 L224.0,345.7 L223.6,347.4 L223.2,349.2 L222.8,350.9 L222.4,352.6 L222.0,354.3 L221.7,356.0 L221.4,357.7 L221.1,359.3 L220.8,360.9 L220.5,362.5 L220.3,364.1 L220.2,365.6 L220.0,367.1 L219.9,368.6 L219.8,370.1 L219.7,371.6 L219.6,373.1 L219.5,374.6 L219.4,376.1 L219.3,377.7 L219.2,379.4 L219.1,381.0 L219.0,382.6 L218.9,384.2 L218.8,385.7 L218.8,387.2 L218.7,388.5 L218.7,389.8 L218.6,390.9 L218.6,392.0 L218.6,393.0 L218.5,393.9 L218.5,394.8 L218.5,395.6 L218.5,396.3 L218.5,396.9 L218.5,397.4 L218.5,397.9 L223.5,398.1 L223.5,397.7 L223.6,397.1 L223.6,396.5 L223.7,395.8 L223.8,395.1 L223.9,394.2 L224.0,393.3 L224.1,392.4 L224.2,391.3 L224.3,390.2 L224.5,389.0 L224.7,387.7 L224.9,386.3 L225.1,384.8 L225.3,383.2 L225.5,381.7 L225.8,380.1 L226.0,378.5 L226.3,376.9 L226.5,375.4 L226.7,373.9 L227.0,372.4 L227.2,371.0 L227.4,369.5 L227.7,368.1 L227.9,366.6 L228.2,365.2 L228.4,363.7 L228.7,362.2 L228.9,360.7 L229.2,359.1 L229.5,357.5 L229.8,355.9 L230.2,354.3 L230.5,352.6 L230.9,351.0 L231.3,349.3 L231.7,347.6 L232.1,346.0 L232.6,344.3 L233.0,342.7 L233.5,341.1 L234.0,339.4 L234.5,337.8 L235.0,336.2 L235.5,334.6 L236.0,333.0 L236.6,331.4 L237.2,329.8 L237.8,328.2 L238.5,326.5 L239.2,324.8 L239.9,323.1 L240.7,321.4 L241.4,319.8 L242.2,318.2 L243.0,316.6 L243.8,315.1 L244.7,313.7 L245.6,312.3 L246.6,311.1 L247.7,309.8 L248.9,308.6 L250.2,307.4 L251.6,306.2 L253.0,305.0 L254.4,303.7 L255.9,302.4 L257.3,301.1 L258.7,299.7 L260.1,298.3 L261.4,296.9 L262.7,295.5 L263.9,294.1 L265.1,292.7 L266.3,291.4 L267.5,290.2 L268.6,289.0 L269.8,288.0 L270.9,287.0 L272.1,286.1 L273.3,285.3 L274.5,284.4 L275.8,283.7 L277.1,283.0 L278.3,282.3 L279.6,281.7 L280.9,281.1 L282.1,280.6 L283.3,280.1 L284.5,279.7 L285.7,279.3 L286.9,279.0 L288.0,278.7 L289.2,278.5 L290.4,278.3 L291.6,278.1 L292.8,278.0 L294.0,277.9 L295.2,277.8 L296.4,277.7 L297.6,277.7 L298.9,277.7 L300.1,277.8 L301.3,277.8 L302.6,278.0 L303.8,278.1 L304.9,278.3 L306.1,278.5 L307.2,278.7 L308.2,278.9 L309.3,279.2 L310.3,279.6 L311.3,279.9 L312.3,280.3 L313.2,280.7 L314.2,281.1 L315.1,281.6 L316.1,282.1 L317.0,282.7 L317.9,283.3 L318.8,283.9 L319.7,284.6 L320.7,285.4 L321.6,286.2 L322.5,287.0 L323.5,287.9 L324.4,288.8 L325.4,289.7 L326.3,290.7 L327.3,291.6 L328.2,292.6 L329.1,293.7 L330.1,294.7 L331.1,295.9 L332.0,297.0 L333.0,298.2 L334.1,299.3 L335.1,300.5 L336.2,301.7 L337.3,302.9 L338.5,304.1 L339.8,305.4 L341.1,306.7 L342.3,308.0 L343.6,309.2 L344.7,310.3 L345.7,311.3 L346.5,312.2 L347.2,312.8 Z" fill="#de383e"/>
<path d="M204.9,377.7 L211.8,390.1 L218.7,402.5 L223.3,399.5 L215.2,387.9 L207.1,376.3 Z" fill="#de383e"/>
<path d="M235.9,371.4 L227.2,385.5 L218.6,399.7 L223.4,402.3 L230.8,387.5 L238.1,372.6 Z" fill="#de383e"/>
<path d="M372.2,317.8 L372.2,316.8 L372.1,315.4 L372.0,313.8 L371.9,312.0 L371.7,310.1 L371.6,308.0 L371.5,305.9 L371.3,303.8 L371.2,301.8 L371.1,299.8 L371.0,297.9 L370.8,296.0 L370.7,294.1 L370.6,292.1 L370.5,290.1 L370.4,288.1 L370.3,286.1 L370.1,284.0 L370.0,281.9 L369.9,279.9 L369.8,277.8 L369.7,275.7 L369.5,273.7 L369.4,271.6 L369.3,269.5 L369.2,267.3 L369.1,265.1 L368.9,262.8 L368.8,260.4 L368.6,257.9 L368.5,255.1 L368.3,251.9 L368.1,248.6 L367.9,245.1 L367.7,241.6 L367.5,238.2 L367.4,235.0 L367.2,232.1 L367.1,229.8 L367.0,227.9 L363.0,228.1 L363.0,229.9 L363.0,232.3 L363.1,235.1 L363.1,238.3 L363.2,241.7 L363.2,245.2 L363.2,248.7 L363.3,252.1 L363.3,255.3 L363.4,258.1 L363.4,260.6 L363.5,263.1 L363.5,265.4 L363.6,267.6 L363.7,269.8 L363.8,271.9 L363.9,273.9 L363.9,276.0 L364.0,278.1 L364.1,280.1 L364.2,282.2 L364.3,284.3 L364.3,286.4 L364.4,288.4 L364.5,290.4 L364.6,292.4 L364.7,294.4 L364.8,296.3 L364.8,298.2 L364.9,300.2 L365.0,302.1 L365.1,304.2 L365.2,306.3 L365.3,308.4 L365.4,310.4 L365.5,312.4 L365.6,314.2 L365.6,315.8 L365.7,317.1 L365.8,318.2 Z" fill="#de383e"/>
<path d="M357.0,241.2 L362.1,233.3 L367.3,225.3 L362.7,222.7 L358.6,231.2 L354.4,239.8 Z" fill="#de383e"/>
<path d="M375.9,237.7 L371.6,230.1 L367.2,222.6 L362.8,225.4 L368.1,232.4 L373.5,239.3 Z" fill="#de383e"/>
<path d="M361.2,321.1 L361.9,320.4 L362.8,319.4 L363.9,318.3 L365.0,317.1 L366.3,315.8 L367.6,314.4 L368.9,313.0 L370.2,311.7 L371.6,310.5 L372.8,309.3 L374.1,308.2 L375.5,307.1 L376.9,306.0 L378.4,304.9 L379.9,303.8 L381.4,302.7 L382.9,301.6 L384.4,300.6 L385.9,299.5 L387.4,298.5 L388.9,297.4 L390.2,296.4 L391.5,295.5 L392.8,294.5 L394.0,293.6 L395.3,292.8 L396.5,292.0 L397.8,291.2 L399.2,290.5 L400.7,289.7 L402.4,289.0 L404.2,288.2 L406.1,287.4 L408.0,286.6 L410.0,285.9 L412.0,285.3 L414.0,284.7 L415.9,284.2 L417.8,283.8 L419.6,283.5 L421.4,283.2 L423.3,283.0 L425.2,282.9 L427.0,282.8 L428.8,282.8 L430.5,282.9 L432.1,283.1 L433.7,283.4 L435.1,283.7 L436.5,284.2 L437.8,284.8 L439.0,285.5 L440.3,286.4 L441.5,287.3 L442.7,288.4 L443.9,289.6 L445.1,290.9 L446.4,292.3 L447.6,293.8 L448.8,295.4 L450.0,297.1 L451.2,298.8 L452.4,300.8 L453.5,302.8 L454.7,305.0 L455.9,307.1 L457.0,309.4 L458.0,311.6 L459.1,313.9 L460.0,316.1 L460.9,318.3 L461.8,320.5 L462.7,322.7 L463.5,325.0 L464.3,327.3 L465.0,329.6 L465.7,331.9 L466.3,334.2 L466.9,336.5 L467.5,338.8 L468.1,341.0 L468.5,343.2 L469.0,345.4 L469.4,347.5 L469.8,349.7 L470.1,351.9 L470.4,354.1 L470.7,356.4 L470.9,358.7 L471.1,361.2 L471.4,363.8 L471.5,366.9 L471.6,370.1 L471.6,373.4 L471.6,376.8 L471.6,380.0 L471.6,383.1 L471.5,385.8 L471.5,388.1 L471.5,389.9 L476.5,390.1 L476.7,388.4 L476.9,386.1 L477.2,383.4 L477.5,380.4 L477.8,377.1 L478.2,373.7 L478.4,370.3 L478.7,366.9 L478.8,363.7 L478.9,360.8 L478.8,358.2 L478.6,355.6 L478.4,353.1 L478.0,350.7 L477.7,348.4 L477.3,346.1 L476.8,343.8 L476.4,341.5 L475.8,339.2 L475.3,336.8 L474.7,334.5 L474.0,332.1 L473.4,329.6 L472.6,327.2 L471.9,324.8 L471.0,322.4 L470.2,320.0 L469.3,317.6 L468.4,315.2 L467.4,312.9 L466.4,310.6 L465.3,308.3 L464.2,305.9 L463.0,303.5 L461.8,301.2 L460.5,298.9 L459.2,296.7 L457.9,294.5 L456.6,292.5 L455.2,290.6 L453.9,288.9 L452.5,287.2 L451.1,285.6 L449.7,284.0 L448.2,282.5 L446.6,281.2 L445.0,279.9 L443.3,278.7 L441.4,277.7 L439.5,276.8 L437.5,276.1 L435.4,275.5 L433.3,275.2 L431.1,274.9 L429.0,274.8 L426.8,274.8 L424.7,274.9 L422.6,275.1 L420.5,275.3 L418.4,275.5 L416.3,275.9 L414.0,276.4 L411.8,277.0 L409.6,277.6 L407.4,278.3 L405.2,279.1 L403.1,279.9 L401.1,280.7 L399.1,281.5 L397.3,282.3 L395.5,283.1 L393.8,284.0 L392.2,284.9 L390.7,285.9 L389.3,286.8 L388.0,287.7 L386.6,288.7 L385.3,289.6 L384.0,290.6 L382.6,291.5 L381.1,292.5 L379.6,293.6 L378.0,294.6 L376.5,295.7 L374.9,296.8 L373.3,298.0 L371.7,299.1 L370.2,300.3 L368.6,301.5 L367.2,302.7 L365.7,304.0 L364.2,305.3 L362.7,306.8 L361.3,308.2 L359.9,309.6 L358.6,310.9 L357.4,312.2 L356.3,313.3 L355.5,314.2 L354.8,314.9 Z" fill="#de383e"/>
<path d="M458.9,368.6 L464.7,381.9 L470.5,395.2 L475.5,392.8 L468.3,380.1 L461.1,367.4 Z" fill="#de383e"/>
<path d="M487.9,367.3 L479.3,380.0 L470.7,392.6 L475.3,395.4 L482.7,382.0 L490.1,368.7 Z" fill="#de383e"/>
<path d="M344,486 Q336,491 343,499" fill="none" stroke="#111" stroke-width="1.5"/>
<path d="M253.5,272.0 C253.5,270.8 254.6,269.5 256.0,268.5 C257.4,267.5 260.0,266.4 262.0,266.0 C264.0,265.6 265.1,265.3 268.0,265.9 C270.9,266.5 275.7,267.6 279.5,269.7 C283.3,271.8 286.5,276.6 291.0,278.5 C295.5,280.4 301.5,280.7 306.7,281.0 C311.9,281.3 318.4,280.2 322.3,280.2 C326.2,280.2 328.6,280.0 330.0,281.0 C331.4,282.0 331.7,284.6 331.0,286.0 C330.3,287.4 330.1,289.2 326.0,289.5 C321.9,289.8 312.5,288.5 306.7,287.8 C300.9,287.1 295.9,287.1 291.0,285.5 C286.1,283.9 282.0,279.9 277.5,278.0 C273.0,276.1 267.6,274.3 264.0,274.0 C260.4,273.7 257.8,276.3 256.0,276.0 C254.2,275.7 253.5,273.2 253.5,272.0 Z" fill="#e7e5c9" stroke="#d9d6b2" stroke-width="1"/>
<path d="M258.0,270.5 C259.7,270.3 264.5,269.1 268.0,269.5 C271.5,269.9 275.2,271.0 279.0,273.0 C282.8,275.0 286.5,279.6 291.0,281.5 C295.5,283.4 300.2,283.7 306.0,284.3 C311.8,284.9 322.7,284.9 326.0,285.0" fill="none" stroke="#f1f0e0" stroke-width="2" stroke-linecap="round"/>
<path d="M360.0,287.0 C361.7,285.8 367.3,286.0 372.0,285.0 C376.7,284.0 382.7,282.5 388.0,281.0 C393.3,279.5 399.0,277.5 404.0,276.0 C409.0,274.5 413.7,273.2 418.0,272.0 C422.3,270.8 426.7,269.3 430.0,269.0 C433.3,268.7 436.0,269.0 438.0,270.0 C440.0,271.0 442.3,273.4 442.0,275.0 C441.7,276.6 439.7,278.8 436.0,279.5 C432.3,280.2 425.3,278.4 420.0,279.0 C414.7,279.6 409.3,281.5 404.0,283.0 C398.7,284.5 393.3,286.5 388.0,288.0 C382.7,289.5 376.3,291.3 372.0,292.0 C367.7,292.7 364.0,292.8 362.0,292.0 C360.0,291.2 358.3,288.2 360.0,287.0 Z" fill="#e7e5c9" stroke="#d9d6b2" stroke-width="1"/>
<path d="M364.0,289.0 C366.7,288.5 374.3,287.3 380.0,286.0 C385.7,284.7 392.3,282.7 398.0,281.0 C403.7,279.3 408.7,277.3 414.0,276.0 C419.3,274.7 427.3,273.5 430.0,273.0" fill="none" stroke="#f1f0e0" stroke-width="2.2" stroke-linecap="round"/>
<path d="M270.2,426.3 L271.4,425.7 L273.0,424.8 L274.9,423.8 L276.9,422.7 L279.2,421.5 L281.5,420.2 L283.9,419.0 L286.2,417.8 L288.5,416.7 L290.6,415.7 L292.6,414.9 L294.6,414.0 L296.7,413.2 L298.7,412.5 L300.7,411.7 L302.7,410.9 L304.6,410.2 L306.6,409.6 L308.6,409.0 L310.6,408.4 L312.5,407.9 L314.5,407.4 L316.5,407.0 L318.4,406.6 L320.4,406.2 L322.4,405.9 L324.4,405.6 L326.3,405.3 L328.3,405.1 L330.3,404.8 L332.3,404.6 L334.3,404.4 L336.3,404.2 L338.2,404.1 L340.2,403.9 L342.2,403.7 L344.1,403.6 L346.1,403.5 L348.0,403.5 L350.0,403.4 L352.0,403.4 L353.9,403.4 L355.8,403.5 L357.8,403.6 L359.7,403.7 L361.7,403.8 L363.6,404.0 L365.6,404.2 L367.6,404.5 L369.6,404.8 L371.7,405.1 L373.9,405.5 L376.1,406.0 L378.4,406.4 L380.6,406.9 L382.9,407.4 L385.1,407.9 L387.3,408.4 L389.4,409.0 L391.4,409.6 L393.4,410.2 L395.4,410.9 L397.4,411.6 L399.3,412.4 L401.2,413.2 L403.0,414.0 L404.8,414.8 L406.5,415.6 L408.0,416.4 L409.5,417.3 L410.9,418.1 L412.2,419.1 L413.4,420.1 L414.6,421.2 L415.7,422.2 L416.7,423.2 L417.6,424.2 L418.4,425.0 L419.1,425.7 L419.7,426.3 L420.3,425.7 L419.8,425.1 L419.1,424.4 L418.4,423.5 L417.5,422.5 L416.6,421.4 L415.5,420.2 L414.4,419.0 L413.2,417.9 L411.9,416.8 L410.5,415.7 L409.1,414.7 L407.5,413.8 L405.8,412.8 L404.1,411.8 L402.3,410.8 L400.4,409.9 L398.5,409.0 L396.5,408.1 L394.6,407.2 L392.6,406.4 L390.5,405.6 L388.4,404.9 L386.2,404.1 L383.9,403.4 L381.6,402.8 L379.3,402.1 L377.1,401.6 L374.8,401.1 L372.5,400.6 L370.4,400.2 L368.3,399.9 L366.2,399.6 L364.1,399.3 L362.1,399.1 L360.0,399.0 L358.0,398.8 L356.0,398.7 L354.0,398.6 L352.0,398.6 L350.0,398.6 L348.0,398.6 L345.9,398.6 L343.9,398.7 L341.8,398.8 L339.8,398.9 L337.8,399.1 L335.7,399.3 L333.7,399.6 L331.7,399.9 L329.7,400.2 L327.7,400.5 L325.7,400.8 L323.6,401.2 L321.6,401.6 L319.6,402.0 L317.6,402.4 L315.5,402.9 L313.5,403.4 L311.5,404.0 L309.4,404.6 L307.4,405.3 L305.4,406.0 L303.4,406.7 L301.3,407.5 L299.3,408.4 L297.3,409.3 L295.3,410.2 L293.4,411.2 L291.4,412.2 L289.4,413.3 L287.3,414.4 L285.1,415.7 L282.9,417.1 L280.6,418.6 L278.3,420.0 L276.2,421.4 L274.2,422.8 L272.4,423.9 L271.0,424.9 L269.8,425.7 Z" fill="#8456ac"/>
<path d="M337.2,344.4 C339.1,341.1 343.7,338.3 347.2,336.7 C350.7,335.1 354.6,335.4 358.3,334.6 C362.0,333.9 365.7,332.2 369.4,332.2 C373.1,332.2 377.3,332.9 380.6,334.4 C383.9,335.9 386.8,338.0 389.4,341.1 C392.0,344.2 394.6,349.0 396.1,353.3 C397.6,357.6 398.2,362.4 398.3,366.7 C398.4,371.0 397.9,375.8 397.0,379.0 C396.1,382.2 395.0,385.0 393.0,386.0 C391.0,387.0 388.0,385.4 385.0,385.0 C382.0,384.6 378.5,384.2 375.0,383.5 C371.5,382.8 368.0,381.9 363.9,380.6 C359.8,379.3 354.9,377.7 350.6,375.6 C346.3,373.5 340.8,371.0 338.3,367.8 C335.8,364.6 335.8,360.6 335.6,356.7 C335.4,352.8 335.3,347.7 337.2,344.4 Z" fill="#e7aed6"/>
<path d="M339.0,364.0 C338.7,362.0 336.7,355.5 337.0,352.0 C337.3,348.5 338.8,345.3 341.0,343.0 C343.2,340.7 348.5,338.8 350.0,338.0" fill="none" stroke="#efc3e6" stroke-width="5" opacity="0.6"/>
<path d="M355.5,335.2 L355.1,335.9 L354.5,336.9 L353.9,338.1 L353.2,339.5 L352.5,340.9 L351.7,342.4 L350.9,344.0 L350.2,345.5 L349.4,347.0 L348.8,348.4 L348.1,349.8 L347.5,351.3 L346.8,352.8 L346.1,354.3 L345.5,355.8 L344.9,357.3 L344.3,358.6 L343.8,359.8 L343.4,360.8 L343.1,361.6 L344.9,362.4 L345.3,361.6 L345.8,360.7 L346.3,359.5 L346.9,358.2 L347.6,356.8 L348.3,355.3 L349.1,353.8 L349.8,352.4 L350.5,350.9 L351.2,349.6 L351.9,348.3 L352.7,346.9 L353.6,345.4 L354.4,343.9 L355.3,342.4 L356.1,341.0 L356.8,339.7 L357.5,338.6 L358.1,337.6 L358.5,336.8 Z" fill="#de383e" opacity="0.6"/>
<path d="M364.2,333.8 L364.6,333.7 L365.0,333.6 L365.6,333.4 L366.2,333.2 L366.9,333.1 L367.6,333.0 L368.4,333.0 L369.4,333.1 L370.5,333.2 L371.7,333.4 L373.1,333.6 L374.6,333.9 L376.1,334.3 L377.5,334.7 L378.8,335.2 L380.0,335.7 L381.2,336.2 L382.3,336.8 L383.4,337.5 L384.4,338.3 L385.4,339.1 L386.4,340.0 L387.4,340.9 L388.3,342.0 L389.2,343.2 L390.1,344.5 L391.0,346.0 L391.9,347.5 L392.7,349.0 L393.5,350.6 L394.1,352.2 L394.7,353.8 L395.2,355.3 L395.6,356.9 L396.0,358.6 L396.2,360.2 L396.5,361.9 L396.6,363.5 L396.7,365.2 L396.8,366.7 L396.8,368.3 L396.8,369.9 L396.7,371.5 L396.5,373.1 L396.3,374.6 L396.1,376.1 L395.8,377.4 L395.5,378.6 L395.2,379.7 L394.8,380.8 L394.5,381.8 L394.1,382.6 L393.6,383.3 L393.2,383.9 L392.8,384.3 L392.3,384.6 L391.9,384.7 L391.4,384.8 L390.6,384.7 L389.7,384.5 L388.7,384.3 L387.6,384.0 L386.4,383.7 L385.2,383.5 L384.1,383.3 L382.9,383.1 L381.6,383.0 L380.4,382.8 L379.2,382.6 L377.9,382.4 L376.6,382.2 L375.3,381.9 L374.0,381.7 L372.7,381.4 L371.4,381.1 L370.1,380.7 L368.7,380.4 L367.3,380.0 L365.8,379.6 L364.4,379.2 L362.8,378.7 L361.1,378.2 L359.5,377.7 L357.8,377.2 L356.1,376.6 L354.4,376.0 L352.7,375.3 L351.1,374.6 L349.5,373.7 L347.7,372.8 L345.9,371.7 L344.1,370.6 L342.5,369.5 L341.0,368.6 L339.7,367.7 L338.7,367.1 L337.9,368.5 L338.8,369.1 L340.0,370.0 L341.5,371.0 L343.1,372.2 L344.8,373.4 L346.6,374.6 L348.4,375.7 L350.1,376.6 L351.7,377.5 L353.4,378.2 L355.2,379.0 L356.9,379.6 L358.6,380.3 L360.3,380.9 L361.9,381.5 L363.4,382.0 L365.0,382.5 L366.4,383.0 L367.9,383.4 L369.3,383.8 L370.6,384.2 L372.0,384.5 L373.3,384.8 L374.7,385.1 L376.0,385.3 L377.4,385.5 L378.7,385.7 L380.0,385.9 L381.2,386.1 L382.5,386.2 L383.6,386.4 L384.8,386.5 L385.8,386.7 L386.9,387.0 L387.9,387.3 L389.0,387.5 L390.2,387.8 L391.3,387.9 L392.5,387.8 L393.7,387.4 L394.7,386.8 L395.5,386.0 L396.2,385.0 L396.8,384.0 L397.3,383.0 L397.7,381.8 L398.1,380.6 L398.5,379.4 L398.8,378.1 L399.1,376.6 L399.3,375.0 L399.5,373.4 L399.7,371.7 L399.8,370.0 L399.8,368.3 L399.8,366.7 L399.7,365.0 L399.6,363.3 L399.4,361.5 L399.2,359.8 L398.9,358.0 L398.5,356.3 L398.0,354.5 L397.5,352.8 L396.8,351.1 L396.1,349.4 L395.3,347.7 L394.4,346.1 L393.5,344.5 L392.5,342.9 L391.5,341.5 L390.5,340.2 L389.5,339.0 L388.4,337.9 L387.3,336.9 L386.1,336.0 L384.9,335.2 L383.7,334.4 L382.5,333.7 L381.2,333.1 L379.7,332.6 L378.2,332.2 L376.6,331.9 L375.0,331.7 L373.4,331.5 L372.0,331.4 L370.6,331.4 L369.4,331.3 L368.4,331.4 L367.4,331.5 L366.6,331.7 L365.8,331.9 L365.2,332.1 L364.6,332.3 L364.2,332.5 L363.8,332.6 Z" fill="#7a1a4c"/>
<path d="M338.3,367.8 C337.9,365.9 335.8,360.6 335.6,356.7 C335.4,352.8 335.3,347.7 337.2,344.4 C339.1,341.1 343.7,338.3 347.2,336.7 C350.7,335.1 355.5,335.2 358.3,334.6 C361.1,334.0 363.1,333.4 364.0,333.2" fill="none" stroke="#8e4e9a" stroke-width="1.2" opacity="0.8"/>
<g fill="none" stroke="#5e5b59" stroke-width="1.4">
<path d="M224.0,199.0 C230.0,198.7 247.0,196.0 260.0,197.0 C273.0,198.0 289.5,199.5 302.0,205.0 C314.5,210.5 327.0,221.7 335.0,230.0 C343.0,238.3 347.2,246.7 350.0,255.0 C352.8,263.3 352.2,271.7 352.0,280.0 C351.8,288.3 349.5,300.8 349.0,305.0"/>
<path d="M218,239 L332,265"/>
<path d="M157,273 L322,284.5"/>
<path d="M175,306 L322,294"/>
<path d="M155,328 L348,346"/>
<path d="M123,356 L352,363"/>
<path d="M173,398 L317,401.5"/>
<path d="M132,451 L276,452.5"/>
<path d="M123,501 L292.4,519.5"/>
<path d="M187,559 L323,535.7"/>
<path d="M177,609 L322.5,562.3"/>
<path d="M175,660 L320.6,565.2"/>
<path d="M437,210 L367,252"/>
<path d="M463,246 L407,279.5"/>
<path d="M365,422 L496,475"/>
<path d="M359,442 L496,501"/>
<path d="M357,456 L496,526"/>
<path d="M354,478 L496,556"/>
<path d="M357,489 L496,581"/>
<path d="M381.0,292.0 C384.0,290.8 392.7,286.5 399.0,285.0 C405.3,283.5 409.2,283.0 419.0,283.0 C428.8,283.0 446.3,283.3 458.0,285.0 C469.7,286.7 480.7,290.3 489.0,293.0 C497.3,295.7 504.8,299.7 508.0,301.0"/>
<path d="M386.0,309.6 C391.5,309.0 407.0,305.8 419.0,306.0 C431.0,306.2 446.3,307.9 458.0,310.6 C469.7,313.3 479.7,317.9 489.0,322.0 C498.3,326.1 509.8,332.8 514.0,335.0"/>
<path d="M397.5,330.0 C401.1,329.5 408.9,326.3 419.0,327.0 C429.1,327.7 446.3,330.2 458.0,334.0 C469.7,337.8 479.7,344.0 489.0,349.5 C498.3,355.0 509.8,364.1 514.0,367.0"/>
</g>
<path d="M609,269 C620,273 624,280 624,295 L624,322 C624,334 630,338 640,339 C630,340 624,345 624,357 L624,385 C624,400 620,405 609,409" fill="none" stroke="#3a3a3a" stroke-width="1.6"/>
<text x="170" y="37.5" font-family="Liberation Sans" font-size="31" font-weight="normal" fill="#222" stroke="#222" stroke-width="0.2" textLength="364" lengthAdjust="spacingAndGlyphs" >Aorta &amp; Main Branches</text>
<text x="172.5" y="151.3" font-family="Liberation Sans" font-size="19.5" font-weight="normal" fill="#2a2a2a" stroke="#2a2a2a" stroke-width="0.2" textLength="61" lengthAdjust="spacingAndGlyphs" >RIGHT</text>
<text x="437.5" y="150.8" font-family="Liberation Sans" font-size="19.5" font-weight="normal" fill="#2a2a2a" stroke="#2a2a2a" stroke-width="0.2" textLength="47.5" lengthAdjust="spacingAndGlyphs" >LEFT</text>
<text x="33" y="204" font-family="Liberation Sans" font-size="16" font-weight="normal" fill="#3d3d3d" stroke="#3d3d3d" stroke-width="0.2" textLength="187" lengthAdjust="spacingAndGlyphs" >Brachiocephalic  trunk</text>
<text x="35" y="244.5" font-family="Liberation Sans" font-size="16" font-weight="normal" fill="#3d3d3d" stroke="#3d3d3d" stroke-width="0.2" textLength="180" lengthAdjust="spacingAndGlyphs" >R. common carotid a.</text>
<text x="43" y="309" font-family="Liberation Sans" font-size="16" font-weight="normal" fill="#3d3d3d" stroke="#3d3d3d" stroke-width="0.2" textLength="125" lengthAdjust="spacingAndGlyphs" >R. subclavian a.</text>
<text x="50.5" y="333.3" font-family="Liberation Sans" font-size="16" font-weight="normal" fill="#3d3d3d" stroke="#3d3d3d" stroke-width="0.2" textLength="104" lengthAdjust="spacingAndGlyphs" >Coronary aa.</text>
<text x="36.5" y="565.3" font-family="Liberation Sans" font-size="16" font-weight="normal" fill="#3d3d3d" stroke="#3d3d3d" stroke-width="0.2" textLength="144.5" lengthAdjust="spacingAndGlyphs" >Common iliac aa.</text>
<text x="36.5" y="581.3" font-family="Liberation Sans" font-size="16" font-weight="normal" fill="#3d3d3d" stroke="#3d3d3d" stroke-width="0.2" textLength="120" lengthAdjust="spacingAndGlyphs" >(right and left)</text>
<text x="36" y="614.5" font-family="Liberation Sans" font-size="16" font-weight="normal" fill="#3d3d3d" stroke="#3d3d3d" stroke-width="0.2" textLength="133" lengthAdjust="spacingAndGlyphs" >External iliac aa.</text>
<text x="36.5" y="630.5" font-family="Liberation Sans" font-size="16" font-weight="normal" fill="#3d3d3d" stroke="#3d3d3d" stroke-width="0.2" textLength="51.5" lengthAdjust="spacingAndGlyphs" >(right)</text>
<text x="36" y="665.5" font-family="Liberation Sans" font-size="16" font-weight="normal" fill="#3d3d3d" stroke="#3d3d3d" stroke-width="0.2" textLength="132" lengthAdjust="spacingAndGlyphs" >Internal iliac aa.</text>
<text x="36.5" y="681.5" font-family="Liberation Sans" font-size="16" font-weight="normal" fill="#3d3d3d" stroke="#3d3d3d" stroke-width="0.2" textLength="51.5" lengthAdjust="spacingAndGlyphs" >(right)</text>
<text x="439" y="211.3" font-family="Liberation Sans" font-size="16" font-weight="normal" fill="#3d3d3d" stroke="#3d3d3d" stroke-width="0.2" textLength="175" lengthAdjust="spacingAndGlyphs" >L. common carotid a.</text>
<text x="467" y="252.3" font-family="Liberation Sans" font-size="16" font-weight="normal" fill="#3d3d3d" stroke="#3d3d3d" stroke-width="0.2" textLength="125" lengthAdjust="spacingAndGlyphs" >L. subclavian a.</text>
<text x="516.5" y="310.3" font-family="Liberation Sans" font-size="16" font-weight="normal" fill="#3d3d3d" stroke="#3d3d3d" stroke-width="0.2" textLength="89" lengthAdjust="spacingAndGlyphs" >Ascending</text>
<text x="516.5" y="342.3" font-family="Liberation Sans" font-size="16" font-weight="normal" fill="#3d3d3d" stroke="#3d3d3d" stroke-width="0.2" textLength="39" lengthAdjust="spacingAndGlyphs" >Arch</text>
<text x="515.5" y="377.3" font-family="Liberation Sans" font-size="16" font-weight="normal" fill="#3d3d3d" stroke="#3d3d3d" stroke-width="0.2" textLength="101" lengthAdjust="spacingAndGlyphs" >Descending</text>
<text x="495" y="483.3" font-family="Liberation Sans" font-size="16" font-weight="normal" fill="#3d3d3d" stroke="#3d3d3d" stroke-width="0.2" textLength="99.5" lengthAdjust="spacingAndGlyphs" >Celiac trunk</text>
<text x="495" y="510.3" font-family="Liberation Sans" font-size="16" font-weight="normal" fill="#3d3d3d" stroke="#3d3d3d" stroke-width="0.2" textLength="187" lengthAdjust="spacingAndGlyphs" >Superior mesenteric a.</text>
<text x="496" y="536.3" font-family="Liberation Sans" font-size="16" font-weight="normal" fill="#3d3d3d" stroke="#3d3d3d" stroke-width="0.2" textLength="199" lengthAdjust="spacingAndGlyphs" >Renal aa. (right and left)</text>
<text x="495.5" y="563.3" font-family="Liberation Sans" font-size="16" font-weight="normal" fill="#3d3d3d" stroke="#3d3d3d" stroke-width="0.2" textLength="220" lengthAdjust="spacingAndGlyphs" >Gonadal aa. (right and left)</text>
<text x="495.5" y="589.3" font-family="Liberation Sans" font-size="16" font-weight="normal" fill="#3d3d3d" stroke="#3d3d3d" stroke-width="0.2" textLength="176" lengthAdjust="spacingAndGlyphs" >Inferior mesenteric a.</text>
<text x="646" y="344.3" font-family="Liberation Sans" font-size="16.3" font-weight="normal" fill="#1a1a1a" stroke="#1a1a1a" stroke-width="0.2" textLength="45.5" lengthAdjust="spacingAndGlyphs" style="stroke-width:0.75">Aorta</text>
<text x="71.3" y="280.5" font-family="Liberation Serif" fill="#1f1d1c" textLength="77" lengthAdjust="spacingAndGlyphs" stroke="#1f1d1c" stroke-width="0.25"><tspan font-size="19.5">C</tspan><tspan font-size="14.8">LAVICLE</tspan></text>
<text x="70.5" y="360.3" font-family="Liberation Serif" fill="#1f1d1c" textLength="54" lengthAdjust="spacingAndGlyphs" stroke="#1f1d1c" stroke-width="0.25"><tspan font-size="19.5">H</tspan><tspan font-size="14.8">EART</tspan></text>
<text x="68" y="402" font-family="Liberation Serif" fill="#1f1d1c" textLength="99" lengthAdjust="spacingAndGlyphs" stroke="#1f1d1c" stroke-width="0.25"><tspan font-size="19.5">D</tspan><tspan font-size="14.8">IAPHRAGM</tspan></text>
<text x="67" y="453" font-family="Liberation Serif" fill="#1f1d1c" textLength="60" lengthAdjust="spacingAndGlyphs" stroke="#1f1d1c" stroke-width="0.25"><tspan font-size="19.5">K</tspan><tspan font-size="14.8">IDNEY</tspan></text>
<text x="66" y="507" font-family="Liberation Serif" fill="#1f1d1c" textLength="51" lengthAdjust="spacingAndGlyphs" stroke="#1f1d1c" stroke-width="0.25"><tspan font-size="19.5">P</tspan><tspan font-size="14.8">ELVIS</tspan></text>
</svg>
</body></html>
